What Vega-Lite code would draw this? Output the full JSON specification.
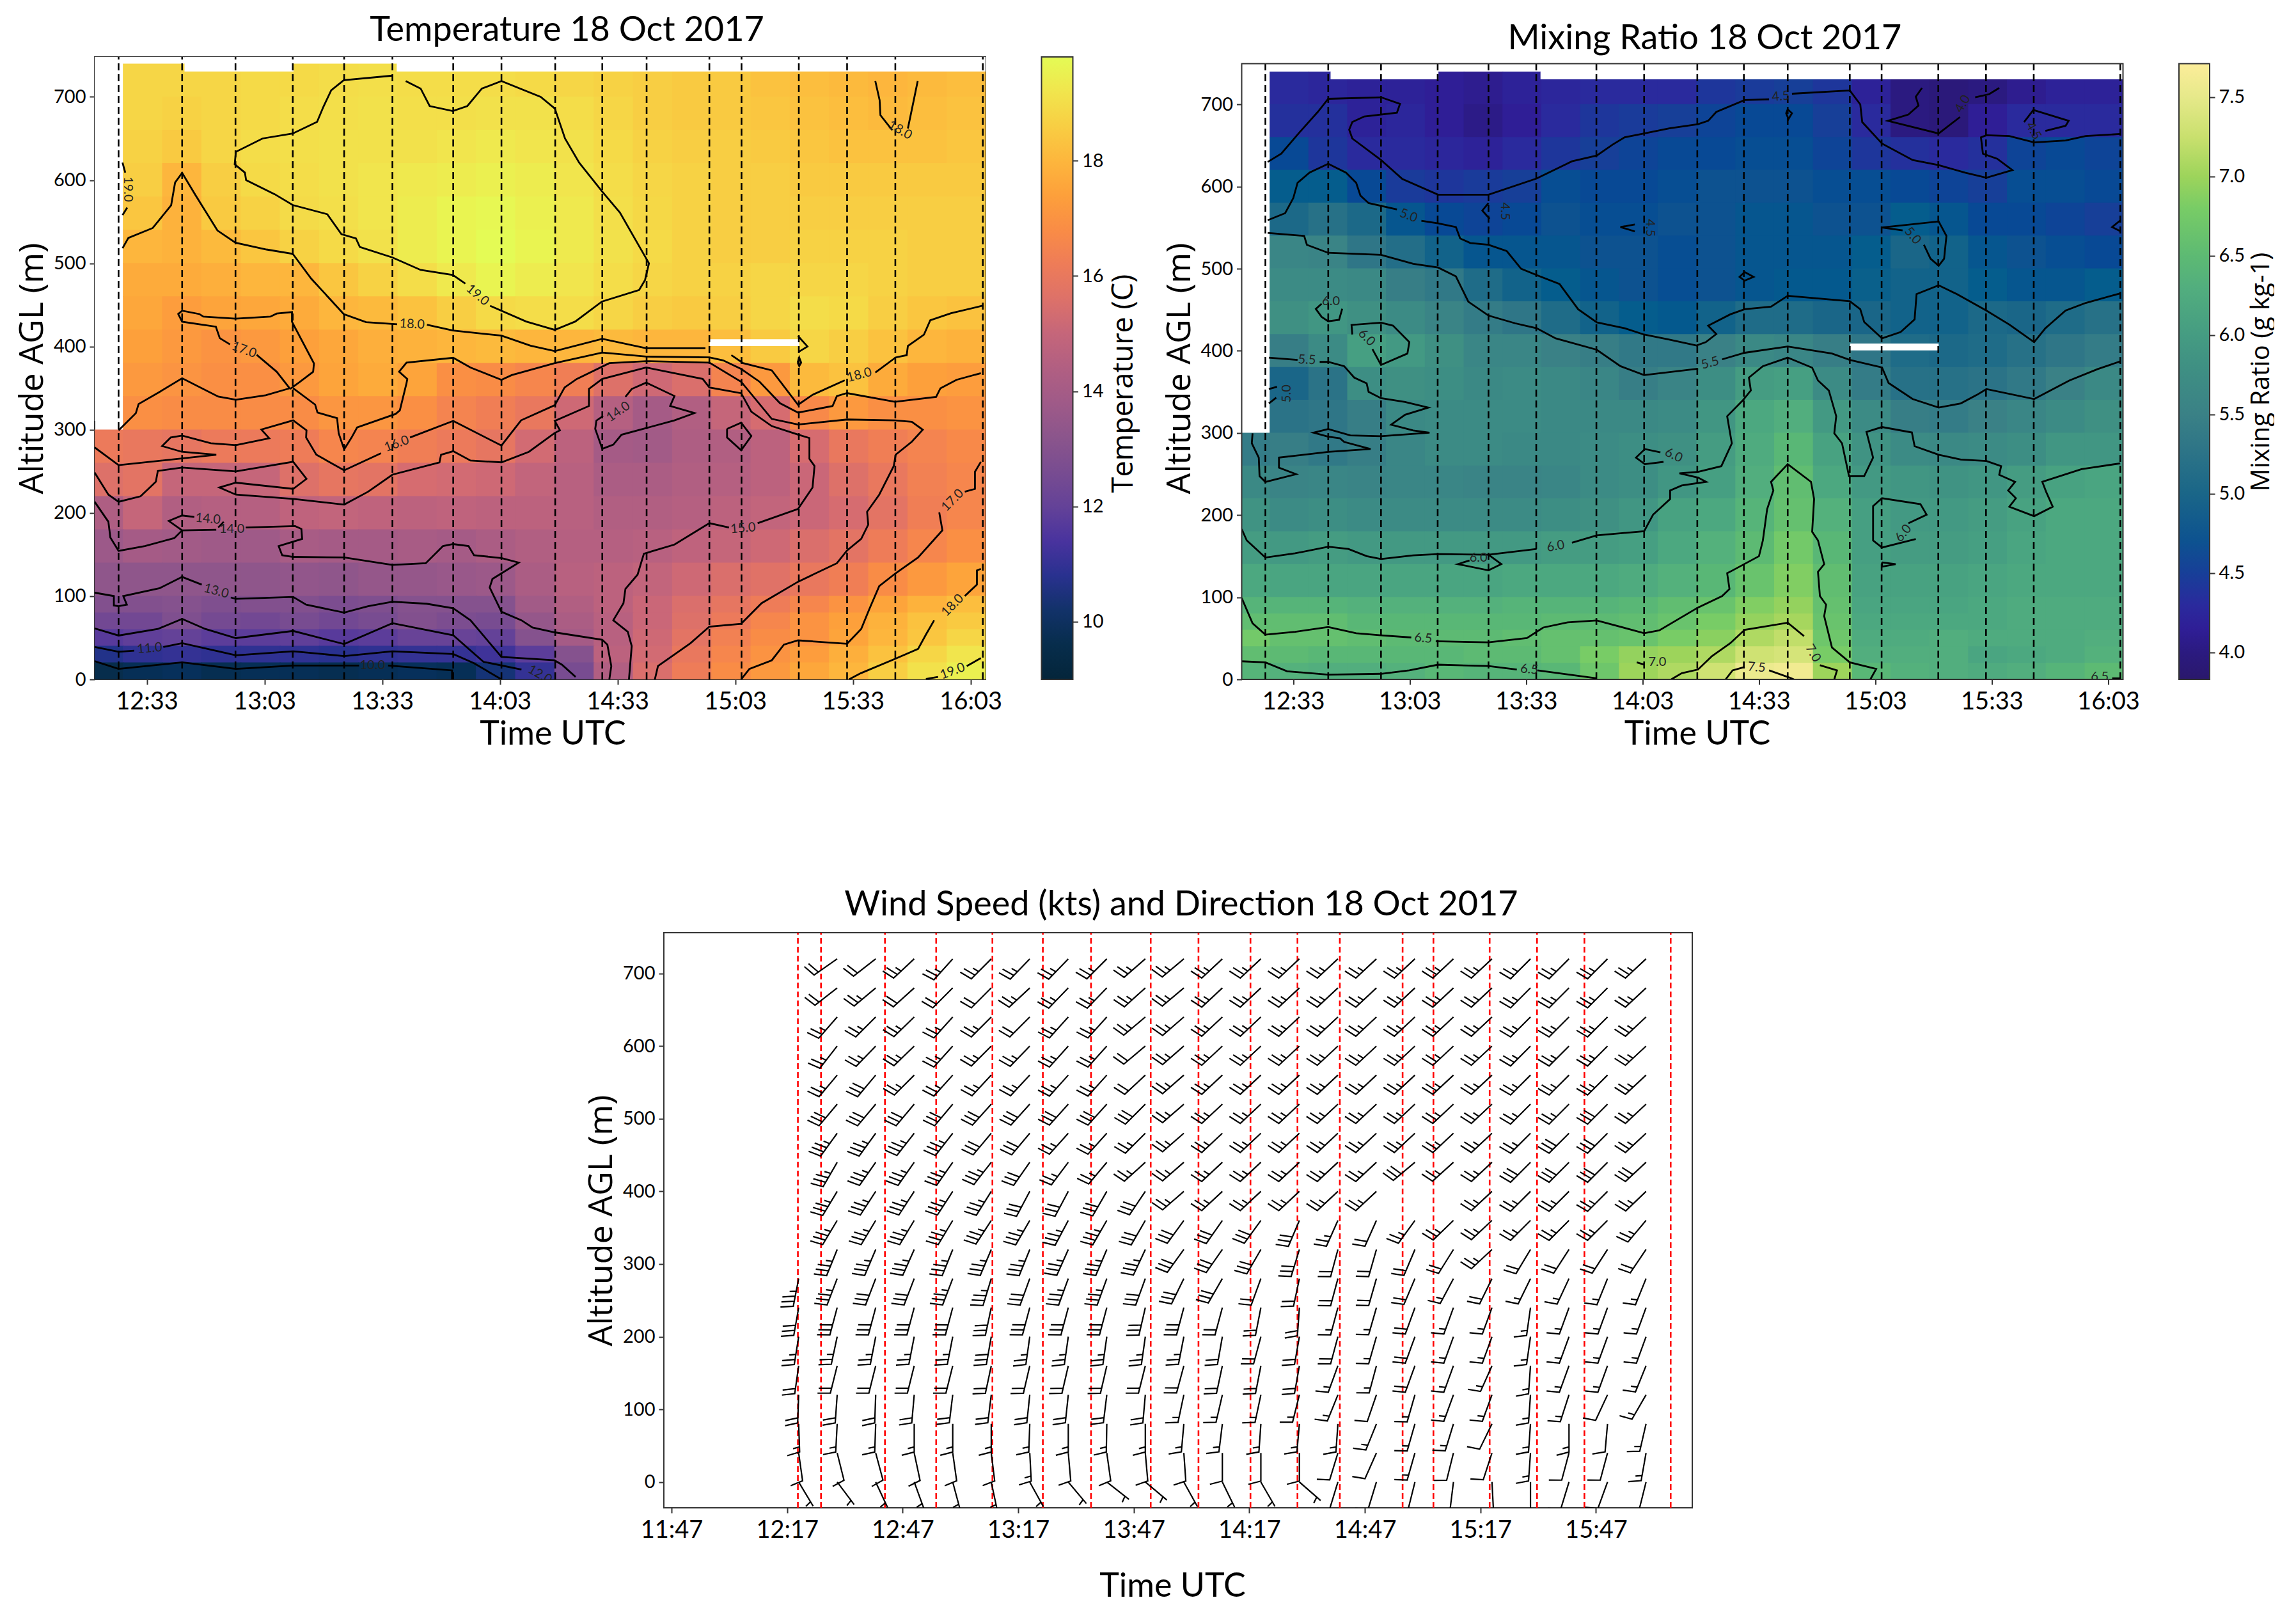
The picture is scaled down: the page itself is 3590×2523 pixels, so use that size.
{"$schema":"https://vega.github.io/schema/vega-lite/v6.json","description":"Temperature, mixing ratio and wind barbs, 18 Oct 2017","background":"white","padding":{"left":23,"top":20,"right":0,"bottom":0},"bounds":"full","align":"none","spacing":212,"resolve":{"scale":{"color":"independent"}},
"datasets":{
"casts":[{"t":745.8,"p":0,"q":749.6},{"t":762,"p":0,"q":749.6},{"t":775.6,"p":0,"q":749.6},{"t":790.2,"p":0,"q":749.6},{"t":803.3,"p":0,"q":749.6},{"t":815.6,"p":0,"q":749.6},{"t":831.1,"p":0,"q":749.6},{"t":843.4,"p":0,"q":749.6},{"t":857.1,"p":0,"q":749.6},{"t":869.1,"p":0,"q":749.6},{"t":880.4,"p":0,"q":749.6},{"t":896.4,"p":0,"q":749.6},{"t":904.6,"p":0,"q":749.6},{"t":919.2,"p":0,"q":749.6},{"t":931.5,"p":0,"q":749.6},{"t":943.8,"p":0,"q":749.6},{"t":966.1,"p":0,"q":749.6}],
"wcasts":[{"t":739.8,"p":-35.5,"q":756},{"t":745.8,"p":-35.5,"q":756},{"t":762.4,"p":-35.5,"q":756},{"t":775.7,"p":-35.5,"q":756},{"t":790.3,"p":-35.5,"q":756},{"t":803.4,"p":-35.5,"q":756},{"t":815.9,"p":-35.5,"q":756},{"t":831.4,"p":-35.5,"q":756},{"t":843.8,"p":-35.5,"q":756},{"t":857.3,"p":-35.5,"q":756},{"t":869.5,"p":-35.5,"q":756},{"t":880.5,"p":-35.5,"q":756},{"t":896.8,"p":-35.5,"q":756},{"t":904.8,"p":-35.5,"q":756},{"t":919.4,"p":-35.5,"q":756},{"t":931.7,"p":-35.5,"q":756},{"t":944,"p":-35.5,"q":756},{"t":966.4,"p":-35.5,"q":756}],
"masks":[{"a":739,"b":746.4,"p":310.6,"q":749.6},{"a":746.4,"b":762.6,"p":740,"q":749.6},{"a":762.6,"b":790.4,"p":730.5,"q":749.6},{"a":790.4,"b":816.7,"p":740,"q":749.6},{"a":816.7,"b":967,"p":730.5,"q":749.6},{"a":896.5,"b":919.3,"p":400.5,"q":408.8}],
"temp":[
{"t":752,"h":720,"v":18.8},{"t":762,"h":720,"v":18.8},{"t":772,"h":720,"v":18.8},{"t":782,"h":720,"v":18.9},{"t":792,"h":720,"v":18.9},{"t":802,"h":720,"v":19},{"t":812,"h":720,"v":19.05},{"t":822,"h":720,"v":19},{"t":832,"h":720,"v":19},{"t":842,"h":720,"v":19},{"t":852,"h":720,"v":18.9},{"t":862,"h":720,"v":18.8},{"t":872,"h":720,"v":18.7},{"t":882,"h":720,"v":18.6},{"t":892,"h":720,"v":18.5},{"t":902,"h":720,"v":18.5},{"t":912,"h":720,"v":18.3},{"t":922,"h":720,"v":18.2},{"t":932,"h":720,"v":18.1},{"t":942,"h":720,"v":18},{"t":952,"h":720,"v":18.1},{"t":962,"h":720,"v":18.2},
{"t":752,"h":680,"v":18.8},{"t":762,"h":680,"v":18.7},{"t":772,"h":680,"v":18.8},{"t":782,"h":680,"v":18.9},{"t":792,"h":680,"v":19},{"t":802,"h":680,"v":19.05},{"t":812,"h":680,"v":19.1},{"t":822,"h":680,"v":19.05},{"t":832,"h":680,"v":19.05},{"t":842,"h":680,"v":19.1},{"t":852,"h":680,"v":19.1},{"t":862,"h":680,"v":19},{"t":872,"h":680,"v":18.8},{"t":882,"h":680,"v":18.6},{"t":892,"h":680,"v":18.5},{"t":902,"h":680,"v":18.5},{"t":912,"h":680,"v":18.4},{"t":922,"h":680,"v":18.3},{"t":932,"h":680,"v":18.2},{"t":942,"h":680,"v":18.1},{"t":952,"h":680,"v":18.2},{"t":962,"h":680,"v":18.3},
{"t":752,"h":640,"v":18.7},{"t":762,"h":640,"v":18.5},{"t":772,"h":640,"v":18.8},{"t":782,"h":640,"v":19},{"t":792,"h":640,"v":19.05},{"t":802,"h":640,"v":19.1},{"t":812,"h":640,"v":19.1},{"t":822,"h":640,"v":19.1},{"t":832,"h":640,"v":19.2},{"t":842,"h":640,"v":19.3},{"t":852,"h":640,"v":19.2},{"t":862,"h":640,"v":19.1},{"t":872,"h":640,"v":18.9},{"t":882,"h":640,"v":18.7},{"t":892,"h":640,"v":18.6},{"t":902,"h":640,"v":18.6},{"t":912,"h":640,"v":18.5},{"t":922,"h":640,"v":18.4},{"t":932,"h":640,"v":18.3},{"t":942,"h":640,"v":18.3},{"t":952,"h":640,"v":18.3},{"t":962,"h":640,"v":18.4},
{"t":752,"h":600,"v":18.6},{"t":762,"h":600,"v":18},{"t":772,"h":600,"v":18.6},{"t":782,"h":600,"v":18.9},{"t":792,"h":600,"v":19},{"t":802,"h":600,"v":19.1},{"t":812,"h":600,"v":19.2},{"t":822,"h":600,"v":19.3},{"t":832,"h":600,"v":19.4},{"t":842,"h":600,"v":19.5},{"t":852,"h":600,"v":19.4},{"t":862,"h":600,"v":19.2},{"t":872,"h":600,"v":19},{"t":882,"h":600,"v":18.8},{"t":892,"h":600,"v":18.7},{"t":902,"h":600,"v":18.6},{"t":912,"h":600,"v":18.6},{"t":922,"h":600,"v":18.5},{"t":932,"h":600,"v":18.5},{"t":942,"h":600,"v":18.5},{"t":952,"h":600,"v":18.5},{"t":962,"h":600,"v":18.5},
{"t":752,"h":560,"v":18.4},{"t":762,"h":560,"v":17.9},{"t":772,"h":560,"v":18.5},{"t":782,"h":560,"v":18.7},{"t":792,"h":560,"v":18.95},{"t":802,"h":560,"v":19.05},{"t":812,"h":560,"v":19.2},{"t":822,"h":560,"v":19.4},{"t":832,"h":560,"v":19.6},{"t":842,"h":560,"v":19.7},{"t":852,"h":560,"v":19.5},{"t":862,"h":560,"v":19.3},{"t":872,"h":560,"v":19.05},{"t":882,"h":560,"v":18.85},{"t":892,"h":560,"v":18.7},{"t":902,"h":560,"v":18.6},{"t":912,"h":560,"v":18.6},{"t":922,"h":560,"v":18.6},{"t":932,"h":560,"v":18.6},{"t":942,"h":560,"v":18.6},{"t":952,"h":560,"v":18.6},{"t":962,"h":560,"v":18.6},
{"t":752,"h":520,"v":18},{"t":762,"h":520,"v":17.9},{"t":772,"h":520,"v":18.1},{"t":782,"h":520,"v":18.4},{"t":792,"h":520,"v":18.7},{"t":802,"h":520,"v":18.9},{"t":812,"h":520,"v":19.1},{"t":822,"h":520,"v":19.4},{"t":832,"h":520,"v":19.6},{"t":842,"h":520,"v":19.8},{"t":852,"h":520,"v":19.6},{"t":862,"h":520,"v":19.35},{"t":872,"h":520,"v":19.1},{"t":882,"h":520,"v":18.9},{"t":892,"h":520,"v":18.7},{"t":902,"h":520,"v":18.6},{"t":912,"h":520,"v":18.6},{"t":922,"h":520,"v":18.7},{"t":932,"h":520,"v":18.7},{"t":942,"h":520,"v":18.7},{"t":952,"h":520,"v":18.6},{"t":962,"h":520,"v":18.6},
{"t":752,"h":480,"v":17.7},{"t":762,"h":480,"v":17.7},{"t":772,"h":480,"v":17.8},{"t":782,"h":480,"v":18},{"t":792,"h":480,"v":18},{"t":802,"h":480,"v":18.4},{"t":812,"h":480,"v":18.7},{"t":822,"h":480,"v":19},{"t":832,"h":480,"v":19.3},{"t":842,"h":480,"v":19.6},{"t":852,"h":480,"v":19.4},{"t":862,"h":480,"v":19.2},{"t":872,"h":480,"v":19},{"t":882,"h":480,"v":18.8},{"t":892,"h":480,"v":18.7},{"t":902,"h":480,"v":18.7},{"t":912,"h":480,"v":18.8},{"t":922,"h":480,"v":18.8},{"t":932,"h":480,"v":18.8},{"t":942,"h":480,"v":18.7},{"t":952,"h":480,"v":18.6},{"t":962,"h":480,"v":18.6},
{"t":752,"h":440,"v":17.6},{"t":762,"h":440,"v":17.3},{"t":772,"h":440,"v":17.5},{"t":782,"h":440,"v":17.6},{"t":792,"h":440,"v":17.7},{"t":802,"h":440,"v":18},{"t":812,"h":440,"v":18.1},{"t":822,"h":440,"v":18.3},{"t":832,"h":440,"v":18.6},{"t":842,"h":440,"v":18.9},{"t":852,"h":440,"v":19},{"t":862,"h":440,"v":19},{"t":872,"h":440,"v":18.8},{"t":882,"h":440,"v":18.6},{"t":892,"h":440,"v":18.5},{"t":902,"h":440,"v":18.6},{"t":912,"h":440,"v":18.8},{"t":922,"h":440,"v":19},{"t":932,"h":440,"v":18.9},{"t":942,"h":440,"v":18.6},{"t":952,"h":440,"v":18.4},{"t":962,"h":440,"v":18.3},
{"t":752,"h":400,"v":17.4},{"t":762,"h":400,"v":17.2},{"t":772,"h":400,"v":17},{"t":782,"h":400,"v":17.2},{"t":792,"h":400,"v":17.4},{"t":802,"h":400,"v":17.6},{"t":812,"h":400,"v":17.8},{"t":822,"h":400,"v":17.9},{"t":832,"h":400,"v":18},{"t":842,"h":400,"v":18.1},{"t":852,"h":400,"v":18},{"t":862,"h":400,"v":18},{"t":872,"h":400,"v":18.1},{"t":882,"h":400,"v":18},{"t":892,"h":400,"v":18},{"t":902,"h":400,"v":18.2},{"t":912,"h":400,"v":18.5},{"t":922,"h":400,"v":18.8},{"t":932,"h":400,"v":18.6},{"t":942,"h":400,"v":18.3},{"t":952,"h":400,"v":18},{"t":962,"h":400,"v":17.9},
{"t":752,"h":360,"v":17.2},{"t":762,"h":360,"v":17.05},{"t":772,"h":360,"v":16.9},{"t":782,"h":360,"v":16.9},{"t":792,"h":360,"v":17.2},{"t":802,"h":360,"v":17.5},{"t":812,"h":360,"v":17.7},{"t":822,"h":360,"v":17.5},{"t":832,"h":360,"v":16.9},{"t":842,"h":360,"v":16.8},{"t":852,"h":360,"v":16.6},{"t":862,"h":360,"v":16.3},{"t":872,"h":360,"v":15.6},{"t":882,"h":360,"v":15.2},{"t":892,"h":360,"v":15.5},{"t":902,"h":360,"v":16.5},{"t":912,"h":360,"v":17.2},{"t":922,"h":360,"v":18.1},{"t":932,"h":360,"v":18.3},{"t":942,"h":360,"v":17.7},{"t":952,"h":360,"v":17.4},{"t":962,"h":360,"v":17.3},
{"t":752,"h":320,"v":16.9},{"t":762,"h":320,"v":16.8},{"t":772,"h":320,"v":16.8},{"t":782,"h":320,"v":16.8},{"t":792,"h":320,"v":16.8},{"t":802,"h":320,"v":17.1},{"t":812,"h":320,"v":17.1},{"t":822,"h":320,"v":16.9},{"t":832,"h":320,"v":16.5},{"t":842,"h":320,"v":16.3},{"t":852,"h":320,"v":16},{"t":862,"h":320,"v":15.2},{"t":872,"h":320,"v":14.5},{"t":882,"h":320,"v":14},{"t":892,"h":320,"v":14.4},{"t":902,"h":320,"v":15},{"t":912,"h":320,"v":15.4},{"t":922,"h":320,"v":16.7},{"t":932,"h":320,"v":17.2},{"t":942,"h":320,"v":16.9},{"t":952,"h":320,"v":16.9},{"t":962,"h":320,"v":17},
{"t":742,"h":280,"v":16.1},{"t":752,"h":280,"v":16},{"t":762,"h":280,"v":15.9},{"t":772,"h":280,"v":16.1},{"t":782,"h":280,"v":16.1},{"t":792,"h":280,"v":16.2},{"t":802,"h":280,"v":16.6},{"t":812,"h":280,"v":16.5},{"t":822,"h":280,"v":16.3},{"t":832,"h":280,"v":16.1},{"t":842,"h":280,"v":15.9},{"t":852,"h":280,"v":15.3},{"t":862,"h":280,"v":14.7},{"t":872,"h":280,"v":14},{"t":882,"h":280,"v":13.9},{"t":892,"h":280,"v":14.3},{"t":902,"h":280,"v":14.4},{"t":912,"h":280,"v":14.7},{"t":922,"h":280,"v":15.4},{"t":932,"h":280,"v":16},{"t":942,"h":280,"v":16.3},{"t":952,"h":280,"v":16.5},{"t":962,"h":280,"v":16.7},
{"t":742,"h":240,"v":15.6},{"t":752,"h":240,"v":15.8},{"t":762,"h":240,"v":15},{"t":772,"h":240,"v":15},{"t":782,"h":240,"v":15},{"t":792,"h":240,"v":15.6},{"t":802,"h":240,"v":15.9},{"t":812,"h":240,"v":15.8},{"t":822,"h":240,"v":15.4},{"t":832,"h":240,"v":15.3},{"t":842,"h":240,"v":15.2},{"t":852,"h":240,"v":14.9},{"t":862,"h":240,"v":14.6},{"t":872,"h":240,"v":14.2},{"t":882,"h":240,"v":14.2},{"t":892,"h":240,"v":14.4},{"t":902,"h":240,"v":14.5},{"t":912,"h":240,"v":14.7},{"t":922,"h":240,"v":15.1},{"t":932,"h":240,"v":15.6},{"t":942,"h":240,"v":16},{"t":952,"h":240,"v":16.4},{"t":962,"h":240,"v":16.6},
{"t":742,"h":200,"v":14.3},{"t":752,"h":200,"v":15},{"t":762,"h":200,"v":14.4},{"t":772,"h":200,"v":14.5},{"t":782,"h":200,"v":14.5},{"t":792,"h":200,"v":14.8},{"t":802,"h":200,"v":14.9},{"t":812,"h":200,"v":14.8},{"t":822,"h":200,"v":14.7},{"t":832,"h":200,"v":14.8},{"t":842,"h":200,"v":14.7},{"t":852,"h":200,"v":14.7},{"t":862,"h":200,"v":14.6},{"t":872,"h":200,"v":14.4},{"t":882,"h":200,"v":14.4},{"t":892,"h":200,"v":14.5},{"t":902,"h":200,"v":14.7},{"t":912,"h":200,"v":14.9},{"t":922,"h":200,"v":15.1},{"t":932,"h":200,"v":15.4},{"t":942,"h":200,"v":15.8},{"t":952,"h":200,"v":16.3},{"t":962,"h":200,"v":16.6},
{"t":742,"h":160,"v":13.7},{"t":752,"h":160,"v":14},{"t":762,"h":160,"v":13.9},{"t":772,"h":160,"v":13.8},{"t":782,"h":160,"v":13.8},{"t":792,"h":160,"v":14.1},{"t":802,"h":160,"v":14},{"t":812,"h":160,"v":14},{"t":822,"h":160,"v":14.1},{"t":832,"h":160,"v":14},{"t":842,"h":160,"v":14.2},{"t":852,"h":160,"v":14.4},{"t":862,"h":160,"v":14.5},{"t":872,"h":160,"v":14.5},{"t":882,"h":160,"v":14.6},{"t":892,"h":160,"v":14.8},{"t":902,"h":160,"v":15},{"t":912,"h":160,"v":15.2},{"t":922,"h":160,"v":15.5},{"t":932,"h":160,"v":15.8},{"t":942,"h":160,"v":16.2},{"t":952,"h":160,"v":16.6},{"t":962,"h":160,"v":16.9},
{"t":742,"h":120,"v":13.3},{"t":752,"h":120,"v":13.3},{"t":762,"h":120,"v":13.3},{"t":772,"h":120,"v":13.3},{"t":782,"h":120,"v":13.3},{"t":792,"h":120,"v":13.4},{"t":802,"h":120,"v":13.3},{"t":812,"h":120,"v":13.5},{"t":822,"h":120,"v":13.5},{"t":832,"h":120,"v":13.6},{"t":842,"h":120,"v":13.7},{"t":852,"h":120,"v":14.2},{"t":862,"h":120,"v":14.6},{"t":872,"h":120,"v":14.7},{"t":882,"h":120,"v":14.9},{"t":892,"h":120,"v":15.2},{"t":902,"h":120,"v":15.5},{"t":912,"h":120,"v":15.7},{"t":922,"h":120,"v":16},{"t":932,"h":120,"v":16.3},{"t":942,"h":120,"v":16.8},{"t":952,"h":120,"v":17.2},{"t":962,"h":120,"v":17.5},
{"t":742,"h":90,"v":12.9},{"t":752,"h":90,"v":12.9},{"t":762,"h":90,"v":13},{"t":772,"h":90,"v":12.8},{"t":782,"h":90,"v":12.9},{"t":792,"h":90,"v":12.9},{"t":802,"h":90,"v":12.7},{"t":812,"h":90,"v":12.8},{"t":822,"h":90,"v":13},{"t":832,"h":90,"v":13},{"t":842,"h":90,"v":13},{"t":852,"h":90,"v":13.9},{"t":862,"h":90,"v":14.4},{"t":872,"h":90,"v":14.7},{"t":882,"h":90,"v":15.1},{"t":892,"h":90,"v":15.5},{"t":902,"h":90,"v":15.9},{"t":912,"h":90,"v":16.2},{"t":922,"h":90,"v":16.6},{"t":932,"h":90,"v":17},{"t":942,"h":90,"v":17.5},{"t":952,"h":90,"v":17.9},{"t":962,"h":90,"v":18.2},
{"t":742,"h":70,"v":12.4},{"t":752,"h":70,"v":12.4},{"t":762,"h":70,"v":12.8},{"t":772,"h":70,"v":12.5},{"t":782,"h":70,"v":12.4},{"t":792,"h":70,"v":12.6},{"t":802,"h":70,"v":12.4},{"t":812,"h":70,"v":12.6},{"t":822,"h":70,"v":12.9},{"t":832,"h":70,"v":12.7},{"t":842,"h":70,"v":12.6},{"t":852,"h":70,"v":13.5},{"t":862,"h":70,"v":14.2},{"t":872,"h":70,"v":14.6},{"t":882,"h":70,"v":15.1},{"t":892,"h":70,"v":15.6},{"t":902,"h":70,"v":16.1},{"t":912,"h":70,"v":16.6},{"t":922,"h":70,"v":17},{"t":932,"h":70,"v":17.4},{"t":942,"h":70,"v":17.9},{"t":952,"h":70,"v":18.3},{"t":962,"h":70,"v":18.5},
{"t":742,"h":50,"v":11.7},{"t":752,"h":50,"v":11.9},{"t":762,"h":50,"v":12},{"t":772,"h":50,"v":11.8},{"t":782,"h":50,"v":11.8},{"t":792,"h":50,"v":11.9},{"t":802,"h":50,"v":11.7},{"t":812,"h":50,"v":11.8},{"t":822,"h":50,"v":12.1},{"t":832,"h":50,"v":12.1},{"t":842,"h":50,"v":12},{"t":852,"h":50,"v":13},{"t":862,"h":50,"v":14},{"t":872,"h":50,"v":14.6},{"t":882,"h":50,"v":15.2},{"t":892,"h":50,"v":15.8},{"t":902,"h":50,"v":16.4},{"t":912,"h":50,"v":16.8},{"t":922,"h":50,"v":17},{"t":932,"h":50,"v":17.5},{"t":942,"h":50,"v":18},{"t":952,"h":50,"v":18.4},{"t":962,"h":50,"v":18.8},
{"t":742,"h":30,"v":10.7},{"t":752,"h":30,"v":10.9},{"t":762,"h":30,"v":11},{"t":772,"h":30,"v":10.9},{"t":782,"h":30,"v":10.9},{"t":792,"h":30,"v":10.9},{"t":802,"h":30,"v":10.8},{"t":812,"h":30,"v":10.9},{"t":822,"h":30,"v":11},{"t":832,"h":30,"v":11},{"t":842,"h":30,"v":11.2},{"t":852,"h":30,"v":11.8},{"t":862,"h":30,"v":13},{"t":872,"h":30,"v":14.7},{"t":882,"h":30,"v":15.3},{"t":892,"h":30,"v":16},{"t":902,"h":30,"v":16.6},{"t":912,"h":30,"v":17},{"t":922,"h":30,"v":17.3},{"t":932,"h":30,"v":17.8},{"t":942,"h":30,"v":18.3},{"t":952,"h":30,"v":18.8},{"t":962,"h":30,"v":19.2},
{"t":742,"h":10,"v":9.6},{"t":752,"h":10,"v":9.8},{"t":762,"h":10,"v":9.9},{"t":772,"h":10,"v":9.7},{"t":782,"h":10,"v":9.8},{"t":792,"h":10,"v":9.8},{"t":802,"h":10,"v":9.7},{"t":812,"h":10,"v":9.8},{"t":822,"h":10,"v":9.9},{"t":832,"h":10,"v":9.8},{"t":842,"h":10,"v":10.4},{"t":852,"h":10,"v":11},{"t":862,"h":10,"v":12.6},{"t":872,"h":10,"v":14.4},{"t":882,"h":10,"v":15.5},{"t":892,"h":10,"v":16.2},{"t":902,"h":10,"v":16.8},{"t":912,"h":10,"v":17.2},{"t":922,"h":10,"v":17.6},{"t":932,"h":10,"v":18},{"t":942,"h":10,"v":18.6},{"t":952,"h":10,"v":19.1},{"t":962,"h":10,"v":19.5}],
"mix":[
{"t":752,"h":720,"v":4.3},{"t":762,"h":720,"v":4.25},{"t":772,"h":720,"v":4.2},{"t":782,"h":720,"v":4.2},{"t":792,"h":720,"v":4.15},{"t":802,"h":720,"v":4.1},{"t":812,"h":720,"v":4.2},{"t":822,"h":720,"v":4.25},{"t":832,"h":720,"v":4.3},{"t":842,"h":720,"v":4.3},{"t":852,"h":720,"v":4.3},{"t":862,"h":720,"v":4.4},{"t":872,"h":720,"v":4.45},{"t":882,"h":720,"v":4.5},{"t":892,"h":720,"v":4.4},{"t":902,"h":720,"v":4.2},{"t":912,"h":720,"v":4},{"t":922,"h":720,"v":3.95},{"t":932,"h":720,"v":4},{"t":942,"h":720,"v":4.1},{"t":952,"h":720,"v":4.2},{"t":962,"h":720,"v":4.2},
{"t":752,"h":680,"v":4.35},{"t":762,"h":680,"v":4.35},{"t":772,"h":680,"v":4.2},{"t":782,"h":680,"v":4.25},{"t":792,"h":680,"v":4.15},{"t":802,"h":680,"v":4.05},{"t":812,"h":680,"v":4.15},{"t":822,"h":680,"v":4.3},{"t":832,"h":680,"v":4.4},{"t":842,"h":680,"v":4.45},{"t":852,"h":680,"v":4.5},{"t":862,"h":680,"v":4.55},{"t":872,"h":680,"v":4.6},{"t":882,"h":680,"v":4.6},{"t":892,"h":680,"v":4.5},{"t":902,"h":680,"v":4.3},{"t":912,"h":680,"v":4},{"t":922,"h":680,"v":3.95},{"t":932,"h":680,"v":4.15},{"t":942,"h":680,"v":4.3},{"t":952,"h":680,"v":4.3},{"t":962,"h":680,"v":4.3},
{"t":752,"h":640,"v":4.6},{"t":762,"h":640,"v":4.4},{"t":772,"h":640,"v":4.3},{"t":782,"h":640,"v":4.3},{"t":792,"h":640,"v":4.25},{"t":802,"h":640,"v":4.2},{"t":812,"h":640,"v":4.3},{"t":822,"h":640,"v":4.4},{"t":832,"h":640,"v":4.5},{"t":842,"h":640,"v":4.55},{"t":852,"h":640,"v":4.6},{"t":862,"h":640,"v":4.6},{"t":872,"h":640,"v":4.65},{"t":882,"h":640,"v":4.65},{"t":892,"h":640,"v":4.55},{"t":902,"h":640,"v":4.4},{"t":912,"h":640,"v":4.35},{"t":922,"h":640,"v":4.3},{"t":932,"h":640,"v":4.35},{"t":942,"h":640,"v":4.55},{"t":952,"h":640,"v":4.6},{"t":962,"h":640,"v":4.55},
{"t":752,"h":600,"v":4.85},{"t":762,"h":600,"v":4.85},{"t":772,"h":600,"v":4.6},{"t":782,"h":600,"v":4.45},{"t":792,"h":600,"v":4.4},{"t":802,"h":600,"v":4.45},{"t":812,"h":600,"v":4.5},{"t":822,"h":600,"v":4.65},{"t":832,"h":600,"v":4.6},{"t":842,"h":600,"v":4.6},{"t":852,"h":600,"v":4.65},{"t":862,"h":600,"v":4.7},{"t":872,"h":600,"v":4.7},{"t":882,"h":600,"v":4.7},{"t":892,"h":600,"v":4.65},{"t":902,"h":600,"v":4.65},{"t":912,"h":600,"v":4.6},{"t":922,"h":600,"v":4.55},{"t":932,"h":600,"v":4.5},{"t":942,"h":600,"v":4.65},{"t":952,"h":600,"v":4.65},{"t":962,"h":600,"v":4.6},
{"t":752,"h":560,"v":5.05},{"t":762,"h":560,"v":5.2},{"t":772,"h":560,"v":5.05},{"t":782,"h":560,"v":4.75},{"t":792,"h":560,"v":4.6},{"t":802,"h":560,"v":4.55},{"t":812,"h":560,"v":4.6},{"t":822,"h":560,"v":4.7},{"t":832,"h":560,"v":4.65},{"t":842,"h":560,"v":4.65},{"t":852,"h":560,"v":4.7},{"t":862,"h":560,"v":4.7},{"t":872,"h":560,"v":4.75},{"t":882,"h":560,"v":4.75},{"t":892,"h":560,"v":4.7},{"t":902,"h":560,"v":4.7},{"t":912,"h":560,"v":4.85},{"t":922,"h":560,"v":4.75},{"t":932,"h":560,"v":4.6},{"t":942,"h":560,"v":4.6},{"t":952,"h":560,"v":4.55},{"t":962,"h":560,"v":4.5},
{"t":752,"h":520,"v":5.6},{"t":762,"h":520,"v":5.55},{"t":772,"h":520,"v":5.3},{"t":782,"h":520,"v":5.15},{"t":792,"h":520,"v":4.95},{"t":802,"h":520,"v":4.75},{"t":812,"h":520,"v":4.75},{"t":822,"h":520,"v":4.75},{"t":832,"h":520,"v":4.7},{"t":842,"h":520,"v":4.7},{"t":852,"h":520,"v":4.65},{"t":862,"h":520,"v":4.7},{"t":872,"h":520,"v":4.75},{"t":882,"h":520,"v":4.75},{"t":892,"h":520,"v":4.75},{"t":902,"h":520,"v":4.85},{"t":912,"h":520,"v":5},{"t":922,"h":520,"v":4.95},{"t":932,"h":520,"v":4.75},{"t":942,"h":520,"v":4.7},{"t":952,"h":520,"v":4.65},{"t":962,"h":520,"v":4.6},
{"t":752,"h":480,"v":5.7},{"t":762,"h":480,"v":5.7},{"t":772,"h":480,"v":5.65},{"t":782,"h":480,"v":5.45},{"t":792,"h":480,"v":5.35},{"t":802,"h":480,"v":5.1},{"t":812,"h":480,"v":4.95},{"t":822,"h":480,"v":4.85},{"t":832,"h":480,"v":4.75},{"t":842,"h":480,"v":4.7},{"t":852,"h":480,"v":4.65},{"t":862,"h":480,"v":4.7},{"t":872,"h":480,"v":4.75},{"t":882,"h":480,"v":4.8},{"t":892,"h":480,"v":4.8},{"t":902,"h":480,"v":4.9},{"t":912,"h":480,"v":4.95},{"t":922,"h":480,"v":4.95},{"t":932,"h":480,"v":4.85},{"t":942,"h":480,"v":4.75},{"t":952,"h":480,"v":4.75},{"t":962,"h":480,"v":4.85},
{"t":752,"h":440,"v":5.8},{"t":762,"h":440,"v":5.9},{"t":772,"h":440,"v":5.8},{"t":782,"h":440,"v":5.7},{"t":792,"h":440,"v":5.55},{"t":802,"h":440,"v":5.4},{"t":812,"h":440,"v":5.3},{"t":822,"h":440,"v":5.1},{"t":832,"h":440,"v":4.95},{"t":842,"h":440,"v":4.85},{"t":852,"h":440,"v":4.8},{"t":862,"h":440,"v":4.95},{"t":872,"h":440,"v":5.1},{"t":882,"h":440,"v":5.1},{"t":892,"h":440,"v":5},{"t":902,"h":440,"v":5},{"t":912,"h":440,"v":4.95},{"t":922,"h":440,"v":4.95},{"t":932,"h":440,"v":5.05},{"t":942,"h":440,"v":5},{"t":952,"h":440,"v":5.1},{"t":962,"h":440,"v":5.2},
{"t":752,"h":400,"v":5.45},{"t":762,"h":400,"v":5.7},{"t":772,"h":400,"v":6.05},{"t":782,"h":400,"v":5.95},{"t":792,"h":400,"v":5.8},{"t":802,"h":400,"v":5.6},{"t":812,"h":400,"v":5.6},{"t":822,"h":400,"v":5.5},{"t":832,"h":400,"v":5.45},{"t":842,"h":400,"v":5.35},{"t":852,"h":400,"v":5.35},{"t":862,"h":400,"v":5.5},{"t":872,"h":400,"v":5.65},{"t":882,"h":400,"v":5.6},{"t":892,"h":400,"v":5.45},{"t":902,"h":400,"v":5.3},{"t":912,"h":400,"v":5.1},{"t":922,"h":400,"v":5.05},{"t":932,"h":400,"v":5.1},{"t":942,"h":400,"v":5.2},{"t":952,"h":400,"v":5.3},{"t":962,"h":400,"v":5.4},
{"t":752,"h":360,"v":5},{"t":762,"h":360,"v":5.25},{"t":772,"h":360,"v":5.75},{"t":782,"h":360,"v":5.8},{"t":792,"h":360,"v":5.75},{"t":802,"h":360,"v":5.65},{"t":812,"h":360,"v":5.7},{"t":822,"h":360,"v":5.65},{"t":832,"h":360,"v":5.6},{"t":842,"h":360,"v":5.45},{"t":852,"h":360,"v":5.55},{"t":862,"h":360,"v":5.75},{"t":872,"h":360,"v":6},{"t":882,"h":360,"v":6.05},{"t":892,"h":360,"v":5.7},{"t":902,"h":360,"v":5.4},{"t":912,"h":360,"v":5.2},{"t":922,"h":360,"v":5.2},{"t":932,"h":360,"v":5.25},{"t":942,"h":360,"v":5.35},{"t":952,"h":360,"v":5.5},{"t":962,"h":360,"v":5.65},
{"t":752,"h":320,"v":5.25},{"t":762,"h":320,"v":5.3},{"t":772,"h":320,"v":5.45},{"t":782,"h":320,"v":5.65},{"t":792,"h":320,"v":5.7},{"t":802,"h":320,"v":5.7},{"t":812,"h":320,"v":5.7},{"t":822,"h":320,"v":5.65},{"t":832,"h":320,"v":5.65},{"t":842,"h":320,"v":5.65},{"t":852,"h":320,"v":5.7},{"t":862,"h":320,"v":5.9},{"t":872,"h":320,"v":6.2},{"t":882,"h":320,"v":6.3},{"t":892,"h":320,"v":5.95},{"t":902,"h":320,"v":5.7},{"t":912,"h":320,"v":5.45},{"t":922,"h":320,"v":5.4},{"t":932,"h":320,"v":5.5},{"t":942,"h":320,"v":5.6},{"t":952,"h":320,"v":5.7},{"t":962,"h":320,"v":5.8},
{"t":742,"h":280,"v":5.4},{"t":752,"h":280,"v":5.45},{"t":762,"h":280,"v":5.35},{"t":772,"h":280,"v":5.45},{"t":782,"h":280,"v":5.6},{"t":792,"h":280,"v":5.7},{"t":802,"h":280,"v":5.7},{"t":812,"h":280,"v":5.65},{"t":822,"h":280,"v":5.65},{"t":832,"h":280,"v":5.7},{"t":842,"h":280,"v":5.75},{"t":852,"h":280,"v":5.8},{"t":862,"h":280,"v":6},{"t":872,"h":280,"v":6.25},{"t":882,"h":280,"v":6.45},{"t":892,"h":280,"v":6.1},{"t":902,"h":280,"v":5.85},{"t":912,"h":280,"v":5.7},{"t":922,"h":280,"v":5.65},{"t":932,"h":280,"v":5.7},{"t":942,"h":280,"v":5.75},{"t":952,"h":280,"v":5.9},{"t":962,"h":280,"v":5.9},
{"t":742,"h":240,"v":5.65},{"t":752,"h":240,"v":5.55},{"t":762,"h":240,"v":5.6},{"t":772,"h":240,"v":5.55},{"t":782,"h":240,"v":5.6},{"t":792,"h":240,"v":5.6},{"t":802,"h":240,"v":5.55},{"t":812,"h":240,"v":5.55},{"t":822,"h":240,"v":5.6},{"t":832,"h":240,"v":5.7},{"t":842,"h":240,"v":5.75},{"t":852,"h":240,"v":5.9},{"t":862,"h":240,"v":6.05},{"t":872,"h":240,"v":6.3},{"t":882,"h":240,"v":6.55},{"t":892,"h":240,"v":6.2},{"t":902,"h":240,"v":5.95},{"t":912,"h":240,"v":5.9},{"t":922,"h":240,"v":5.85},{"t":932,"h":240,"v":5.9},{"t":942,"h":240,"v":6},{"t":952,"h":240,"v":6.1},{"t":962,"h":240,"v":6.15},
{"t":742,"h":200,"v":5.85},{"t":752,"h":200,"v":5.7},{"t":762,"h":200,"v":5.75},{"t":772,"h":200,"v":5.7},{"t":782,"h":200,"v":5.7},{"t":792,"h":200,"v":5.7},{"t":802,"h":200,"v":5.7},{"t":812,"h":200,"v":5.7},{"t":822,"h":200,"v":5.75},{"t":832,"h":200,"v":5.8},{"t":842,"h":200,"v":5.9},{"t":852,"h":200,"v":6.1},{"t":862,"h":200,"v":6.2},{"t":872,"h":200,"v":6.4},{"t":882,"h":200,"v":6.6},{"t":892,"h":200,"v":6.35},{"t":902,"h":200,"v":6.05},{"t":912,"h":200,"v":5.95},{"t":922,"h":200,"v":5.95},{"t":932,"h":200,"v":6},{"t":942,"h":200,"v":6.1},{"t":952,"h":200,"v":6.2},{"t":962,"h":200,"v":6.2},
{"t":742,"h":160,"v":6},{"t":752,"h":160,"v":5.95},{"t":762,"h":160,"v":6},{"t":772,"h":160,"v":5.95},{"t":782,"h":160,"v":5.95},{"t":792,"h":160,"v":5.95},{"t":802,"h":160,"v":5.95},{"t":812,"h":160,"v":5.95},{"t":822,"h":160,"v":6},{"t":832,"h":160,"v":6},{"t":842,"h":160,"v":6.05},{"t":852,"h":160,"v":6.2},{"t":862,"h":160,"v":6.35},{"t":872,"h":160,"v":6.5},{"t":882,"h":160,"v":6.75},{"t":892,"h":160,"v":6.45},{"t":902,"h":160,"v":6.05},{"t":912,"h":160,"v":6},{"t":922,"h":160,"v":6},{"t":932,"h":160,"v":6.05},{"t":942,"h":160,"v":6.15},{"t":952,"h":160,"v":6.2},{"t":962,"h":160,"v":6.2},
{"t":742,"h":120,"v":6.2},{"t":752,"h":120,"v":6.15},{"t":762,"h":120,"v":6.15},{"t":772,"h":120,"v":6.15},{"t":782,"h":120,"v":6.15},{"t":792,"h":120,"v":6.15},{"t":802,"h":120,"v":6.15},{"t":812,"h":120,"v":6.2},{"t":822,"h":120,"v":6.2},{"t":832,"h":120,"v":6.2},{"t":842,"h":120,"v":6.25},{"t":852,"h":120,"v":6.35},{"t":862,"h":120,"v":6.45},{"t":872,"h":120,"v":6.65},{"t":882,"h":120,"v":6.85},{"t":892,"h":120,"v":6.55},{"t":902,"h":120,"v":6.1},{"t":912,"h":120,"v":6.1},{"t":922,"h":120,"v":6.1},{"t":932,"h":120,"v":6.15},{"t":942,"h":120,"v":6.2},{"t":952,"h":120,"v":6.2},{"t":962,"h":120,"v":6.2},
{"t":742,"h":90,"v":6.4},{"t":752,"h":90,"v":6.4},{"t":762,"h":90,"v":6.4},{"t":772,"h":90,"v":6.35},{"t":782,"h":90,"v":6.35},{"t":792,"h":90,"v":6.35},{"t":802,"h":90,"v":6.35},{"t":812,"h":90,"v":6.4},{"t":822,"h":90,"v":6.4},{"t":832,"h":90,"v":6.4},{"t":842,"h":90,"v":6.45},{"t":852,"h":90,"v":6.55},{"t":862,"h":90,"v":6.65},{"t":872,"h":90,"v":6.85},{"t":882,"h":90,"v":6.95},{"t":892,"h":90,"v":6.6},{"t":902,"h":90,"v":6.15},{"t":912,"h":90,"v":6.15},{"t":922,"h":90,"v":6.15},{"t":932,"h":90,"v":6.2},{"t":942,"h":90,"v":6.25},{"t":952,"h":90,"v":6.25},{"t":962,"h":90,"v":6.25},
{"t":742,"h":70,"v":6.55},{"t":752,"h":70,"v":6.55},{"t":762,"h":70,"v":6.55},{"t":772,"h":70,"v":6.45},{"t":782,"h":70,"v":6.45},{"t":792,"h":70,"v":6.45},{"t":802,"h":70,"v":6.45},{"t":812,"h":70,"v":6.45},{"t":822,"h":70,"v":6.5},{"t":832,"h":70,"v":6.5},{"t":842,"h":70,"v":6.55},{"t":852,"h":70,"v":6.65},{"t":862,"h":70,"v":6.8},{"t":872,"h":70,"v":6.95},{"t":882,"h":70,"v":7.05},{"t":892,"h":70,"v":6.65},{"t":902,"h":70,"v":6.2},{"t":912,"h":70,"v":6.2},{"t":922,"h":70,"v":6.2},{"t":932,"h":70,"v":6.2},{"t":942,"h":70,"v":6.25},{"t":952,"h":70,"v":6.25},{"t":962,"h":70,"v":6.25},
{"t":742,"h":50,"v":6.75},{"t":752,"h":50,"v":6.6},{"t":762,"h":50,"v":6.6},{"t":772,"h":50,"v":6.55},{"t":782,"h":50,"v":6.5},{"t":792,"h":50,"v":6.5},{"t":802,"h":50,"v":6.5},{"t":812,"h":50,"v":6.55},{"t":822,"h":50,"v":6.6},{"t":832,"h":50,"v":6.6},{"t":842,"h":50,"v":6.65},{"t":852,"h":50,"v":6.8},{"t":862,"h":50,"v":6.9},{"t":872,"h":50,"v":7.1},{"t":882,"h":50,"v":7.2},{"t":892,"h":50,"v":6.7},{"t":902,"h":50,"v":6.25},{"t":912,"h":50,"v":6.25},{"t":922,"h":50,"v":6.3},{"t":932,"h":50,"v":6.25},{"t":942,"h":50,"v":6.25},{"t":952,"h":50,"v":6.25},{"t":962,"h":50,"v":6.3},
{"t":742,"h":30,"v":6.55},{"t":752,"h":30,"v":6.5},{"t":762,"h":30,"v":6.45},{"t":772,"h":30,"v":6.45},{"t":782,"h":30,"v":6.45},{"t":792,"h":30,"v":6.45},{"t":802,"h":30,"v":6.5},{"t":812,"h":30,"v":6.5},{"t":822,"h":30,"v":6.6},{"t":832,"h":30,"v":6.8},{"t":842,"h":30,"v":6.95},{"t":852,"h":30,"v":7},{"t":862,"h":30,"v":7.1},{"t":872,"h":30,"v":7.3},{"t":882,"h":30,"v":7.35},{"t":892,"h":30,"v":6.8},{"t":902,"h":30,"v":6.3},{"t":912,"h":30,"v":6.3},{"t":922,"h":30,"v":6.3},{"t":932,"h":30,"v":6.15},{"t":942,"h":30,"v":6.2},{"t":952,"h":30,"v":6.25},{"t":962,"h":30,"v":6.35},
{"t":742,"h":10,"v":6.4},{"t":752,"h":10,"v":6.35},{"t":762,"h":10,"v":6.3},{"t":772,"h":10,"v":6.3},{"t":782,"h":10,"v":6.35},{"t":792,"h":10,"v":6.45},{"t":802,"h":10,"v":6.4},{"t":812,"h":10,"v":6.4},{"t":822,"h":10,"v":6.45},{"t":832,"h":10,"v":6.7},{"t":842,"h":10,"v":7},{"t":852,"h":10,"v":7.1},{"t":862,"h":10,"v":7.3},{"t":872,"h":10,"v":7.55},{"t":882,"h":10,"v":7.6},{"t":892,"h":10,"v":7},{"t":902,"h":10,"v":6.45},{"t":912,"h":10,"v":6.35},{"t":922,"h":10,"v":6.3},{"t":932,"h":10,"v":6.25},{"t":942,"h":10,"v":6.3},{"t":952,"h":10,"v":6.4},{"t":962,"h":10,"v":6.5}],
"tlines":[
{"c":1,"t":746.8,"h":621},{"c":1,"t":747.5,"h":609},{"c":2,"t":748,"h":567},{"c":2,"t":746.8,"h":558},
{"c":3,"t":819,"h":719},{"c":3,"t":822.8,"h":710},{"c":3,"t":825.1,"h":689},{"c":3,"t":831,"h":683},{"c":3,"t":834.7,"h":689},{"c":3,"t":838.4,"h":710},{"c":3,"t":843.4,"h":719},{"c":3,"t":853.4,"h":700},{"c":3,"t":857,"h":686},{"c":3,"t":859.6,"h":650},{"c":3,"t":863.2,"h":621},{"c":3,"t":869.1,"h":586},{"c":3,"t":873.6,"h":561},{"c":3,"t":878.2,"h":523},{"c":3,"t":881,"h":500},{"c":3,"t":880,"h":480},{"c":3,"t":878.5,"h":468},{"c":3,"t":869,"h":454},{"c":3,"t":862.2,"h":430},{"c":3,"t":857,"h":420},{"c":3,"t":849.7,"h":430},{"c":3,"t":840.5,"h":449},
{"c":4,"t":834.2,"h":475.5},{"c":4,"t":831,"h":486},{"c":4,"t":822.8,"h":492},{"c":4,"t":815.6,"h":507},{"c":4,"t":807.3,"h":519.6},{"c":4,"t":806.3,"h":530},{"c":4,"t":802.6,"h":535},{"c":4,"t":799,"h":559},{"c":4,"t":790.2,"h":570},{"c":4,"t":785.6,"h":583},{"c":4,"t":778.3,"h":600},{"c":4,"t":778,"h":609},{"c":4,"t":775.4,"h":619},{"c":4,"t":775.7,"h":634},{"c":4,"t":782.5,"h":650},{"c":4,"t":790.2,"h":656},{"c":4,"t":796.4,"h":670},{"c":4,"t":798,"h":688},{"c":4,"t":800,"h":708},{"c":4,"t":803.2,"h":720},{"c":4,"t":815.6,"h":725.5},
{"c":5,"t":746.8,"h":518},{"c":5,"t":748.3,"h":530.5},{"c":5,"t":754.5,"h":542.4},{"c":5,"t":759.2,"h":569.8},{"c":5,"t":760.2,"h":597},{"c":5,"t":762,"h":608.7},{"c":5,"t":765.4,"h":582},{"c":5,"t":771,"h":539.4},{"c":5,"t":775.6,"h":524.8},{"c":5,"t":783.5,"h":516.6},{"c":5,"t":790.2,"h":511.4},{"c":5,"t":794.9,"h":481.6},{"c":5,"t":803.2,"h":439},{"c":5,"t":808.9,"h":429.3},{"c":5,"t":816.8,"h":426.8},
{"c":6,"t":824.4,"h":426.2},{"c":6,"t":831,"h":419.2},{"c":6,"t":843.4,"h":413.1},{"c":6,"t":850.8,"h":401},{"c":6,"t":857,"h":394.5},{"c":6,"t":869.1,"h":409.3},{"c":6,"t":880.3,"h":398},{"c":6,"t":895.4,"h":398},
{"c":7,"t":774.2,"h":402.5},{"c":7,"t":771.6,"h":410},{"c":7,"t":770.6,"h":423.8},{"c":7,"t":762,"h":429.8},{"c":7,"t":761,"h":439},{"c":7,"t":762,"h":443},{"c":7,"t":766.4,"h":439},{"c":7,"t":767.4,"h":435.9},{"c":7,"t":775.6,"h":433.5},{"c":7,"t":784.5,"h":435.9},{"c":7,"t":786.1,"h":439.6},{"c":7,"t":790,"h":441.4},{"c":7,"t":790,"h":429.8},{"c":7,"t":795.6,"h":379.7},{"c":7,"t":795.4,"h":369.6},{"c":7,"t":791.8,"h":356.8},{"c":7,"t":789.5,"h":349},
{"c":8,"t":781,"h":390},{"c":8,"t":786.1,"h":369.7},{"c":8,"t":789.4,"h":349.8},
{"c":9,"t":745.8,"h":299.3},{"c":9,"t":750.2,"h":319.9},{"c":9,"t":750.9,"h":330.9},{"c":9,"t":756.3,"h":345.6},{"c":9,"t":762,"h":361.8},{"c":9,"t":771.2,"h":339.8},{"c":9,"t":775.7,"h":336},{"c":9,"t":783.3,"h":341.5},{"c":9,"t":789.4,"h":349.8},
{"c":10,"t":790.3,"h":349.8},{"c":10,"t":795.9,"h":330.2},{"c":10,"t":796.5,"h":320.6},{"c":10,"t":801.5,"h":314},{"c":10,"t":801.9,"h":295.9},{"c":10,"t":803.3,"h":276.3},{"c":10,"t":805.2,"h":290.7},{"c":10,"t":806.6,"h":302.7},{"c":10,"t":816.4,"h":318.9},{"c":10,"t":817.5,"h":323.3},{"c":10,"t":819.2,"h":356},{"c":10,"t":819.4,"h":361},{"c":10,"t":817.3,"h":369.7},{"c":10,"t":819.2,"h":380.7},{"c":10,"t":831.1,"h":386.5},{"c":10,"t":835.5,"h":374.8},{"c":10,"t":843.4,"h":360},{"c":10,"t":846,"h":365.6},{"c":10,"t":857,"h":380},{"c":10,"t":869.1,"h":392.7},{"c":10,"t":880.3,"h":387.9},{"c":10,"t":896.4,"h":386.9},{"c":10,"t":899.9,"h":383.4},{"c":10,"t":904.5,"h":373},{"c":10,"t":909.2,"h":357.7},{"c":10,"t":914.4,"h":331.9},{"c":10,"t":919,"h":320.6},{"c":10,"t":927.8,"h":328.5},{"c":10,"t":928.9,"h":340.5},{"c":10,"t":931.5,"h":344},{"c":10,"t":943.7,"h":333.6},{"c":10,"t":954.2,"h":339.5},{"c":10,"t":955.3,"h":349.8},{"c":10,"t":959.4,"h":360},{"c":10,"t":965.6,"h":368},
{"c":11,"t":902,"h":389.6},{"c":11,"t":905,"h":380},{"c":11,"t":912.3,"h":371.4},{"c":11,"t":919,"h":330},{"c":11,"t":922.7,"h":342},{"c":11,"t":930.9,"h":359.4},
{"c":12,"t":938.7,"h":368.7},{"c":12,"t":943.9,"h":386.9},{"c":12,"t":946.7,"h":389.6},{"c":12,"t":947,"h":400.6},{"c":12,"t":951.1,"h":414.3},{"c":12,"t":952.7,"h":431.5},{"c":12,"t":958,"h":440},{"c":12,"t":966,"h":449},
{"c":13,"t":919,"h":412.6},{"c":13,"t":921.4,"h":400},{"c":13,"t":919.2,"h":393.7},{"c":14,"t":918.9,"h":380.7},{"c":14,"t":919.3,"h":386.9},{"c":14,"t":919.8,"h":380.7},{"c":14,"t":919.3,"h":376.6},{"c":14,"t":918.9,"h":380.7},
{"c":15,"t":739.7,"h":278.7},{"c":15,"t":745.8,"h":257.4},{"c":15,"t":770.7,"h":270},{"c":15,"t":761.9,"h":273.5},{"c":15,"t":756.9,"h":280.4},{"c":15,"t":759.1,"h":290.7},{"c":15,"t":762,"h":293},{"c":15,"t":769.3,"h":283.8},{"c":15,"t":775.7,"h":281.4},{"c":15,"t":784.2,"h":289.7},{"c":15,"t":782.2,"h":300.3},{"c":15,"t":790.3,"h":311.3},{"c":15,"t":793.7,"h":299.3},{"c":15,"t":793.6,"h":290.7},{"c":15,"t":796.2,"h":270},{"c":15,"t":803.3,"h":251.2},{"c":15,"t":812.7,"h":271.8},
{"c":16,"t":820.1,"h":290.7},{"c":16,"t":831.1,"h":310.6},{"c":16,"t":843.4,"h":281},{"c":16,"t":848.4,"h":311.3},{"c":16,"t":857,"h":329.5},{"c":16,"t":859.5,"h":350.8},{"c":16,"t":862.6,"h":361},{"c":16,"t":870.9,"h":380},{"c":16,"t":880.3,"h":382.4},{"c":16,"t":896.4,"h":380.7},{"c":16,"t":904.5,"h":357.7},{"c":16,"t":912.3,"h":313},{"c":16,"t":919,"h":306.2},{"c":16,"t":931.5,"h":312.3},{"c":16,"t":943.7,"h":311.3},{"c":16,"t":948,"h":309.6},{"c":16,"t":950.8,"h":300},{"c":16,"t":948,"h":285.6},{"c":16,"t":943.9,"h":270.1},{"c":16,"t":943.4,"h":256.4},{"c":16,"t":939.7,"h":222},{"c":16,"t":936.6,"h":201.4},{"c":16,"t":936.9,"h":186},{"c":16,"t":935.1,"h":168.8},{"c":16,"t":931.5,"h":155},{"c":16,"t":928.9,"h":139.6},{"c":16,"t":919,"h":117.3},{"c":16,"t":909.7,"h":91.5},{"c":16,"t":904.5,"h":66.8},{"c":16,"t":896.4,"h":63.4},{"c":16,"t":891.6,"h":43.5},{"c":16,"t":883.3,"h":16},{"c":16,"t":882.5,"h":0},
{"c":17,"t":739.7,"h":248.5},{"c":17,"t":743.2,"h":222},{"c":17,"t":745.8,"h":213.4},{"c":17,"t":751.4,"h":220},{"c":17,"t":755.3,"h":237.5},{"c":17,"t":755.8,"h":250.5},{"c":17,"t":762,"h":254.6},{"c":17,"t":775.7,"h":250},{"c":17,"t":790.3,"h":261.5},{"c":17,"t":793.7,"h":241},{"c":17,"t":790.3,"h":228.9},{"c":17,"t":775.7,"h":236.4},{"c":17,"t":771.5,"h":230.6},{"c":17,"t":775.7,"h":222},{"c":17,"t":790.3,"h":216.9},{"c":17,"t":803.3,"h":210},{"c":17,"t":809.4,"h":225.5},{"c":17,"t":815.6,"h":246},{"c":17,"t":827.6,"h":260.8},{"c":17,"t":828,"h":270},{"c":17,"t":831.1,"h":274.2},{"c":17,"t":835.5,"h":263},{"c":17,"t":843.4,"h":260.8},{"c":17,"t":850.4,"h":273.5},{"c":17,"t":856.9,"h":295.9},{"c":17,"t":858.3,"h":299.3},{"c":17,"t":857,"h":310.6},{"c":17,"t":865.7,"h":328.5},{"c":17,"t":865.7,"h":349.1},{"c":17,"t":869.1,"h":361.1},{"c":17,"t":880.3,"h":374.8},{"c":17,"t":894.7,"h":361.1},{"c":17,"t":896.4,"h":350.8},{"c":17,"t":904.5,"h":343.9},{"c":17,"t":907.1,"h":321.6},{"c":17,"t":912.3,"h":304.4},{"c":17,"t":919,"h":294.1},{"c":17,"t":921.9,"h":290},{"c":17,"t":921.9,"h":265},{"c":17,"t":923.2,"h":256.4},{"c":17,"t":922.7,"h":230.6},{"c":17,"t":919,"h":204.9},{"c":17,"t":908.7,"h":187.7},
{"c":18,"t":901.4,"h":182.5},{"c":18,"t":896.4,"h":187.7},{"c":18,"t":887.5,"h":162},{"c":18,"t":879.7,"h":151},{"c":18,"t":878.1,"h":125.9},{"c":18,"t":875,"h":108.7},{"c":18,"t":874.5,"h":91.5},{"c":18,"t":871.9,"h":71},{"c":18,"t":875.6,"h":57.2},{"c":18,"t":876.6,"h":40},{"c":18,"t":875.9,"h":0},
{"c":19,"t":875,"h":339.5},{"c":19,"t":876.6,"h":349},{"c":19,"t":880.3,"h":356.6},{"c":19,"t":887.5,"h":340.5},{"c":19,"t":886.4,"h":328.5},{"c":19,"t":892.6,"h":320},{"c":19,"t":887.5,"h":311.3},{"c":19,"t":880.3,"h":302},{"c":19,"t":874,"h":294},{"c":19,"t":871.9,"h":282},{"c":19,"t":869.1,"h":277},{"c":19,"t":867.3,"h":301},{"c":19,"t":867.6,"h":311},{"c":19,"t":869.3,"h":316.5},
{"c":20,"t":900.9,"h":301},{"c":20,"t":904.5,"h":308.5},{"c":20,"t":907.1,"h":292.4},{"c":20,"t":904.5,"h":275.3},{"c":20,"t":900.9,"h":290.7},{"c":20,"t":900.9,"h":301},
{"c":21,"t":904.5,"h":0},{"c":21,"t":906.6,"h":12.6},{"c":21,"t":912.3,"h":22.9},{"c":21,"t":915.4,"h":41.7},{"c":21,"t":919,"h":46.9},{"c":21,"t":931.5,"h":42.8},{"c":21,"t":935.1,"h":60.6},{"c":21,"t":937.2,"h":84.7},{"c":21,"t":939.7,"h":112.1},{"c":21,"t":943.9,"h":127.6},{"c":21,"t":949.6,"h":146.5},{"c":21,"t":955.8,"h":179.1},{"c":21,"t":955,"h":200.7},
{"c":22,"t":961.5,"h":225.5},{"c":22,"t":964.1,"h":228.9},{"c":22,"t":964.1,"h":249.5},{"c":22,"t":965.6,"h":261.5},
{"c":23,"t":932,"h":0},{"c":23,"t":935,"h":7.4},{"c":23,"t":943.7,"h":24.6},{"c":23,"t":949.6,"h":36.6},{"c":23,"t":951.6,"h":53.8},{"c":23,"t":953.7,"h":71},
{"c":24,"t":961.5,"h":100.1},{"c":24,"t":964.6,"h":113.9},{"c":24,"t":964.6,"h":131},{"c":24,"t":965.6,"h":132.8},
{"c":25,"t":951.6,"h":0.5},{"c":25,"t":954.7,"h":3},{"c":26,"t":962,"h":16},{"c":26,"t":965.6,"h":25.6},
{"c":27,"t":739.7,"h":213.4},{"c":27,"t":743.2,"h":189.4},{"c":27,"t":743.7,"h":170.5},{"c":27,"t":745.8,"h":154.4},{"c":27,"t":752.5,"h":160.2},{"c":27,"t":760,"h":169.8},{"c":27,"t":762,"h":179.1},{"c":27,"t":770.7,"h":179.8},
{"c":28,"t":778.2,"h":182.5},{"c":28,"t":790.8,"h":184.2},{"c":28,"t":792.4,"h":180.8},{"c":28,"t":792.6,"h":168.8},{"c":28,"t":786.6,"h":160.2},{"c":28,"t":787.5,"h":149.2},{"c":28,"t":790.3,"h":147.2},{"c":28,"t":803.3,"h":146.5},{"c":28,"t":815.6,"h":137.5},{"c":28,"t":824.1,"h":139.6},{"c":28,"t":828.5,"h":160.2},{"c":28,"t":831.1,"h":162.6},{"c":28,"t":835,"h":160.2},{"c":28,"t":836.4,"h":149.2},{"c":28,"t":843.4,"h":145.8},{"c":28,"t":847.8,"h":140.3},{"c":28,"t":841.1,"h":120.7},{"c":28,"t":840.4,"h":110.4},{"c":28,"t":843.4,"h":81.2},{"c":28,"t":848.5,"h":71},{"c":28,"t":851.3,"h":62.3},{"c":28,"t":857,"h":56.5},{"c":28,"t":869.1,"h":47.6},{"c":28,"t":870.4,"h":41.7},{"c":28,"t":871.4,"h":16},{"c":28,"t":870.9,"h":0},
{"c":29,"t":765.1,"h":195.2},{"c":29,"t":762,"h":197},{"c":29,"t":758.6,"h":190.4},{"c":29,"t":762,"h":179.1},{"c":30,"t":772.6,"h":189.4},{"c":30,"t":771.2,"h":182.5},
{"c":31,"t":739.7,"h":104.2},{"c":31,"t":744.6,"h":100.1},{"c":31,"t":744.6,"h":88.8},{"c":31,"t":745.8,"h":88},{"c":31,"t":747.9,"h":89.8},{"c":31,"t":747,"h":100.1},{"c":31,"t":756.3,"h":109.7},{"c":31,"t":762,"h":123.1},{"c":31,"t":767,"h":113.9},
{"c":32,"t":774.4,"h":98.4},{"c":32,"t":775.7,"h":96.7},{"c":32,"t":790.3,"h":99.1},{"c":32,"t":793.6,"h":89.8},{"c":32,"t":803.3,"h":80.2},{"c":32,"t":809.4,"h":88},{"c":32,"t":815.6,"h":93.3},{"c":32,"t":824.3,"h":90.9},{"c":32,"t":831.1,"h":85.4},{"c":32,"t":835.5,"h":71},{"c":32,"t":843.4,"h":27},{"c":32,"t":856.9,"h":22.9},{"c":32,"t":858.8,"h":17.7},{"c":32,"t":862.3,"h":3},
{"c":33,"t":739.7,"h":61.3},{"c":33,"t":745.8,"h":52.7},{"c":33,"t":755.8,"h":60.6},{"c":33,"t":762,"h":72.6},{"c":33,"t":767.9,"h":60.6},{"c":33,"t":775.7,"h":49.6},{"c":33,"t":790.3,"h":58.2},{"c":33,"t":803.3,"h":42.4},{"c":33,"t":815.6,"h":67.5},{"c":33,"t":831.1,"h":53},{"c":33,"t":838.8,"h":21.1},{"c":33,"t":848.5,"h":11.9},
{"c":34,"t":739.7,"h":39},{"c":34,"t":745.8,"h":33.2},{"c":34,"t":749.8,"h":34.5},{"c":35,"t":757.2,"h":39},{"c":35,"t":762,"h":43.5},{"c":35,"t":775.7,"h":29},{"c":35,"t":790.3,"h":33.8},{"c":35,"t":803.3,"h":28},{"c":35,"t":815.6,"h":33.8},{"c":35,"t":831.1,"h":30.4},{"c":35,"t":836.4,"h":19.4},{"c":35,"t":843.4,"h":0},
{"c":36,"t":739.7,"h":21.8},{"c":36,"t":745.8,"h":12.6},{"c":36,"t":762,"h":20.4},{"c":36,"t":775.7,"h":12.6},{"c":36,"t":790.3,"h":16.7},{"c":36,"t":807.1,"h":16.7},{"c":37,"t":814.5,"h":16.7},{"c":37,"t":830.8,"h":10.8},{"c":37,"t":830.8,"h":0},
{"c":38,"t":938.7,"h":719},{"c":38,"t":939.8,"h":696},{"c":38,"t":940,"h":678},{"c":38,"t":943,"h":660},{"c":39,"t":947,"h":662},{"c":39,"t":948.5,"h":696},{"c":39,"t":949.5,"h":719}],
"tlabels":[{"t":748.2,"h":589,"l":"19.0","r":90},{"t":837.3,"h":461.8,"l":"19.0","r":40},{"t":820.6,"h":426.8,"l":"18.0","r":3},{"t":777.8,"h":395.8,"l":"17.0","r":20},{"t":873.2,"h":321.6,"l":"14.0","r":-35},{"t":905,"h":181.5,"l":"15.0","r":-5},{"t":958.4,"h":215.2,"l":"17.0","r":-45},{"t":958.4,"h":89,"l":"18.0","r":-45},{"t":958.4,"h":9.8,"l":"19.0","r":-20},{"t":934.6,"h":365.6,"l":"18.0","r":-15},{"t":816.7,"h":283,"l":"16.0","r":-20},{"t":768.6,"h":192.8,"l":"14.0","r":5},{"t":774.7,"h":180.8,"l":"14.0","r":0},{"t":770.7,"h":106,"l":"13.0","r":15},{"t":753.7,"h":37.3,"l":"11.0","r":-5},{"t":810.5,"h":16.7,"l":"10.0","r":0},{"t":853.2,"h":5.7,"l":"12.0","r":30},{"t":945,"h":660,"l":"18.0","r":30}],
"mlines":[
{"c":1,"t":746.4,"h":630},{"c":1,"t":749.9,"h":640},{"c":1,"t":754.6,"h":666},{"c":1,"t":759.3,"h":690.8},{"c":1,"t":762,"h":706.8},{"c":1,"t":775.6,"h":708.7},{"c":1,"t":780.5,"h":700.7},{"c":1,"t":779.7,"h":689.9},{"c":1,"t":771.3,"h":685.3},{"c":1,"t":768.2,"h":678.5},{"c":1,"t":767.4,"h":669.2},{"c":1,"t":768.2,"h":658.5},{"c":1,"t":775.6,"h":632.3},{"c":1,"t":781.1,"h":609.2},{"c":1,"t":790.3,"h":590.1},{"c":1,"t":803.3,"h":590.1},{"c":1,"t":815.7,"h":609.8},{"c":1,"t":824.8,"h":630.7},{"c":1,"t":831.2,"h":637.8},{"c":1,"t":835.2,"h":650.8},{"c":1,"t":838.4,"h":660},{"c":1,"t":843.4,"h":664.6},{"c":1,"t":849.9,"h":670.8},{"c":1,"t":857.3,"h":676},{"c":1,"t":859.9,"h":680},{"c":1,"t":862,"h":690.8},{"c":1,"t":869.3,"h":705.3},{"c":1,"t":875.6,"h":706.2},
{"c":2,"t":881.5,"h":713},{"c":2,"t":896.4,"h":717},{"c":2,"t":899.1,"h":700},{"c":2,"t":899.6,"h":678.5},{"c":2,"t":904.7,"h":652.3},{"c":2,"t":912.6,"h":632.3},{"c":2,"t":919.3,"h":626.1},{"c":2,"t":926.1,"h":616.9},{"c":2,"t":931.6,"h":610.7},{"c":2,"t":938.3,"h":620},{"c":2,"t":934.4,"h":633.8},{"c":2,"t":930.7,"h":640},{"c":2,"t":930.2,"h":660},{"c":2,"t":931.6,"h":662.5},{"c":2,"t":937.5,"h":661.5},{"c":2,"t":943.9,"h":653.8},{"c":2,"t":952,"h":656},{"c":2,"t":957.2,"h":661.5},{"c":2,"t":966.1,"h":664},
{"c":3,"t":941.3,"h":678.5},{"c":3,"t":943.7,"h":693.3},{"c":3,"t":952.8,"h":680},{"c":3,"t":952,"h":673.9},{"c":3,"t":946.8,"h":667.7},
{"c":4,"t":915,"h":720},{"c":4,"t":913.4,"h":709.3},{"c":4,"t":914.1,"h":698.5},{"c":4,"t":911.5,"h":687.7},{"c":4,"t":906.2,"h":680},{"c":4,"t":919.3,"h":664.6},{"c":4,"t":924.8,"h":684.6},{"c":5,"t":928.7,"h":708.7},{"c":5,"t":932.3,"h":712.4},{"c":5,"t":934.9,"h":720},
{"c":6,"t":880.4,"h":693.9},{"c":6,"t":881.5,"h":689.3},{"c":6,"t":880.6,"h":682.2},{"c":6,"t":880,"h":689.3},{"c":6,"t":880.4,"h":693.9},
{"c":7,"t":966,"h":558.4},{"c":7,"t":964,"h":550.7},{"c":7,"t":966,"h":546},
{"c":8,"t":869.3,"h":495.9},{"c":8,"t":871.6,"h":490},{"c":8,"t":869.3,"h":485.4},{"c":8,"t":868,"h":490},{"c":8,"t":869.3,"h":495.9},
{"c":9,"t":803.3,"h":579.9},{"c":9,"t":801.7,"h":570.7},{"c":9,"t":803.6,"h":560.8},
{"c":10,"t":841,"h":553.8},{"c":10,"t":837.3,"h":550.7},{"c":10,"t":841,"h":545.4},
{"c":11,"t":746.4,"h":559},{"c":11,"t":750.9,"h":567.6},{"c":11,"t":753,"h":586},{"c":11,"t":754.1,"h":604.6},{"c":11,"t":757.2,"h":617},{"c":11,"t":762,"h":627.7},{"c":11,"t":766.6,"h":616.9},{"c":11,"t":769.2,"h":604.6},{"c":11,"t":770.3,"h":589},{"c":11,"t":772.4,"h":579.9},{"c":11,"t":779.7,"h":572.2},
{"c":12,"t":786,"h":558.4},{"c":12,"t":790.3,"h":555.3},{"c":12,"t":794.9,"h":550.7},{"c":12,"t":796,"h":536.8},{"c":12,"t":798.6,"h":531.3},{"c":12,"t":803.3,"h":529.1},{"c":12,"t":808,"h":521.4},{"c":12,"t":811.7,"h":499.9},{"c":12,"t":815.7,"h":492.2},{"c":12,"t":821.6,"h":481.4},{"c":12,"t":826.4,"h":450.6},{"c":12,"t":831.2,"h":434.6},{"c":12,"t":838.4,"h":427.5},{"c":12,"t":843.4,"h":419.8},{"c":12,"t":849.9,"h":413.6},{"c":12,"t":856.9,"h":406.5},{"c":12,"t":859.3,"h":410.6},{"c":12,"t":862,"h":420.4},{"c":12,"t":859.9,"h":430.6},{"c":12,"t":865.6,"h":444.4},{"c":12,"t":869.3,"h":450.6},{"c":12,"t":876.1,"h":453.7},{"c":12,"t":880.4,"h":467},{"c":12,"t":896.4,"h":460.4},{"c":12,"t":899.1,"h":450.6},{"c":12,"t":900.1,"h":435.2},{"c":12,"t":904.7,"h":415.2},{"c":12,"t":909.5,"h":422.9},{"c":12,"t":913.1,"h":438.3},{"c":12,"t":913.6,"h":469},{"c":12,"t":919.3,"h":479.8},{"c":12,"t":924,"h":469},{"c":12,"t":931.6,"h":449},{"c":12,"t":937.5,"h":432},{"c":12,"t":943.9,"h":410.6},{"c":12,"t":946.8,"h":427.5},{"c":12,"t":952,"h":449},{"c":12,"t":957.2,"h":458.3},{"c":12,"t":966.1,"h":470},
{"c":13,"t":910,"h":546.7},{"c":13,"t":904.7,"h":550.1},{"c":13,"t":919.3,"h":557.5},{"c":13,"t":921.3,"h":539.9},{"c":13,"t":920.7,"h":512.2},{"c":13,"t":919.3,"h":503.6},{"c":13,"t":917.2,"h":512.2},{"c":13,"t":915.5,"h":529.1},
{"c":14,"t":748.8,"h":356.2},{"c":14,"t":746.7,"h":353.5},{"c":15,"t":746.7,"h":336},{"c":15,"t":748.6,"h":343},
{"c":16,"t":746.4,"h":543.6},{"c":16,"t":755.8,"h":539.9},{"c":16,"t":756.5,"h":529},{"c":16,"t":762,"h":519.3},{"c":16,"t":775.6,"h":516.8},{"c":16,"t":783.9,"h":506},{"c":16,"t":790.3,"h":501.4},{"c":16,"t":794.9,"h":490.6},{"c":16,"t":798.1,"h":459.8},{"c":16,"t":803.3,"h":442.9},{"c":16,"t":810.1,"h":433.6},{"c":16,"t":815.7,"h":427.5},{"c":16,"t":820.6,"h":415.2},{"c":16,"t":831.2,"h":401.3},{"c":16,"t":837.3,"h":381.3},{"c":16,"t":843.4,"h":370.5},{"c":16,"t":857.3,"h":378.2},
{"c":17,"t":863.5,"h":389.6},{"c":17,"t":869.3,"h":397.6},{"c":17,"t":880.4,"h":405.3},{"c":17,"t":891.8,"h":396.7},{"c":17,"t":896.4,"h":389},{"c":17,"t":904.7,"h":379.8},{"c":17,"t":906.4,"h":360.8},{"c":17,"t":912.6,"h":341.3},{"c":17,"t":919.3,"h":330.9},{"c":17,"t":925,"h":336},{"c":17,"t":929.2,"h":346.5},{"c":17,"t":931.6,"h":353.4},{"c":17,"t":943.9,"h":341.3},{"c":17,"t":953,"h":363.9},{"c":17,"t":960.3,"h":377.8},{"c":17,"t":966.1,"h":387.2},
{"c":18,"t":746.7,"h":391.7},{"c":18,"t":754.1,"h":389},{"c":19,"t":759.8,"h":386.5},{"c":19,"t":762,"h":386.5},{"c":19,"t":766.1,"h":381.3},{"c":19,"t":768.7,"h":367.4},{"c":19,"t":771.9,"h":360.4},{"c":19,"t":772.4,"h":350},{"c":19,"t":775.6,"h":342.3},{"c":19,"t":781.8,"h":337.8},{"c":19,"t":787.8,"h":330.9},{"c":19,"t":781.8,"h":322.2},{"c":19,"t":778.2,"h":310},{"c":19,"t":783.9,"h":303},{"c":19,"t":788.1,"h":300.3},{"c":19,"t":775.6,"h":296},{"c":19,"t":767.7,"h":297.1},{"c":19,"t":762,"h":304.8},{"c":19,"t":758.2,"h":300.3},{"c":19,"t":762,"h":295.4},{"c":19,"t":765,"h":293.6},{"c":19,"t":766.1,"h":289.1},{"c":19,"t":772.9,"h":280.4},{"c":19,"t":762,"h":277},{"c":19,"t":749.3,"h":270},{"c":19,"t":749.3,"h":257.8},{"c":19,"t":753.7,"h":249.8},{"c":19,"t":745.8,"h":240.4},{"c":19,"t":744.3,"h":247.4},{"c":19,"t":744.1,"h":270},{"c":19,"t":742.3,"h":287.4},{"c":19,"t":742.5,"h":299.6},
{"c":20,"t":760.3,"h":457.4},{"c":20,"t":758.8,"h":451},{"c":20,"t":760.3,"h":441.3},{"c":20,"t":762,"h":436},{"c":20,"t":764.8,"h":437.7},{"c":20,"t":765.6,"h":451.2},
{"c":21,"t":768.2,"h":419.8},{"c":21,"t":768,"h":431.5},{"c":21,"t":775.6,"h":434.3},{"c":21,"t":778.7,"h":430.6},{"c":21,"t":782.9,"h":410.6},{"c":21,"t":782.4,"h":396.7},{"c":21,"t":775.6,"h":382.8},{"c":21,"t":773.4,"h":402},
{"c":22,"t":739.7,"h":183},{"c":22,"t":741,"h":169.2},{"c":22,"t":745.8,"h":148.3},{"c":22,"t":753.5,"h":153.5},{"c":22,"t":762,"h":161.5},{"c":22,"t":767.2,"h":158.7},{"c":22,"t":771.9,"h":150},{"c":22,"t":775.6,"h":146.6},{"c":22,"t":783.9,"h":151},{"c":22,"t":790.3,"h":152.5},{"c":22,"t":803.3,"h":151.8},{"c":22,"t":815.7,"h":158.7},
{"c":23,"t":824.8,"h":166.4},{"c":23,"t":831.2,"h":175.4},{"c":23,"t":843.4,"h":180.3},{"c":23,"t":845.7,"h":200.5},{"c":23,"t":850.1,"h":219.6},{"c":23,"t":850.1,"h":230},{"c":23,"t":853.1,"h":236},{"c":23,"t":859.4,"h":240.5},{"c":23,"t":857.3,"h":245.7},{"c":23,"t":852.5,"h":250.9},{"c":23,"t":857.3,"h":252.6},{"c":23,"t":863.3,"h":259.6},{"c":23,"t":866,"h":287.4},{"c":23,"t":864.8,"h":320.4},{"c":23,"t":868.8,"h":339.5},{"c":23,"t":870.9,"h":351.7},{"c":23,"t":870.4,"h":367.4},{"c":23,"t":874,"h":381.3},{"c":23,"t":880.4,"h":391.7},{"c":23,"t":886.7,"h":379.5},{"c":23,"t":888.2,"h":363.9},{"c":23,"t":891,"h":351.7},{"c":23,"t":892.9,"h":320.4},{"c":23,"t":892.4,"h":299.6},{"c":23,"t":894.4,"h":287.4},{"c":23,"t":896.2,"h":247.4},{"c":23,"t":900.1,"h":247.4},{"c":23,"t":902.4,"h":270},{"c":23,"t":900.7,"h":301.3},{"c":23,"t":904.7,"h":307.2},{"c":23,"t":912.4,"h":300.6},{"c":23,"t":913.1,"h":283.9},{"c":23,"t":919.3,"h":273.5},{"c":23,"t":925,"h":267.6},{"c":23,"t":931.6,"h":265.8},{"c":23,"t":935.4,"h":259.6},{"c":23,"t":934.9,"h":249.1},{"c":23,"t":939,"h":240.5},{"c":23,"t":937.2,"h":230},{"c":23,"t":939.2,"h":220.6},{"c":23,"t":937.5,"h":210.2},{"c":23,"t":943.9,"h":198.7},{"c":23,"t":948.7,"h":210.2},{"c":23,"t":947,"h":228.3},{"c":23,"t":946,"h":240.5},{"c":23,"t":956.1,"h":256},{"c":23,"t":966.1,"h":263},
{"c":24,"t":847.6,"h":276.3},{"c":24,"t":843.6,"h":280.4},{"c":24,"t":841.3,"h":270},{"c":24,"t":843.6,"h":262},{"c":24,"t":848.4,"h":264.8},
{"c":25,"t":798.4,"h":144.8},{"c":25,"t":795.4,"h":140.3},{"c":25,"t":803.3,"h":132.7},{"c":25,"t":806.6,"h":140.3},{"c":25,"t":803.3,"h":151.8},
{"c":26,"t":913.4,"h":170.9},{"c":26,"t":904.7,"h":160.5},{"c":26,"t":902.4,"h":169.2},{"c":26,"t":902.4,"h":210.9},{"c":26,"t":904.7,"h":220.6},{"c":26,"t":914.6,"h":213.3},{"c":26,"t":916.2,"h":200.5},{"c":26,"t":911.5,"h":190},
{"c":27,"t":904.7,"h":142.4},{"c":27,"t":908.2,"h":140.3},{"c":27,"t":904.7,"h":137.2},{"c":27,"t":904.7,"h":142.4},
{"c":28,"t":739.7,"h":99},{"c":28,"t":742.5,"h":68.3},{"c":28,"t":745.8,"h":54.4},{"c":28,"t":753.5,"h":57.9},{"c":28,"t":762,"h":63.8},{"c":28,"t":769.2,"h":56.2},{"c":28,"t":775.6,"h":53.7},{"c":28,"t":783.4,"h":51},
{"c":29,"t":789.7,"h":46.4},{"c":29,"t":803.3,"h":45},{"c":29,"t":813.2,"h":50.3},{"c":29,"t":817.4,"h":63.1},{"c":29,"t":823.7,"h":69.4},{"c":29,"t":831.2,"h":71.8},{"c":29,"t":843.4,"h":56.2},{"c":29,"t":847.3,"h":59.6},{"c":29,"t":857.3,"h":87.5},{"c":29,"t":863.5,"h":101.4},{"c":29,"t":865.4,"h":110},{"c":29,"t":864.8,"h":129.2},{"c":29,"t":866.2,"h":132.7},{"c":29,"t":873,"h":150},{"c":29,"t":874,"h":169.2},{"c":29,"t":875.1,"h":207.4},{"c":29,"t":876.7,"h":230},{"c":29,"t":876.1,"h":240.5},{"c":29,"t":880.4,"h":262},{"c":29,"t":886.4,"h":240.5},{"c":29,"t":887.2,"h":219.6},{"c":29,"t":886.7,"h":179.6},{"c":29,"t":888.2,"h":169.2},{"c":29,"t":889.8,"h":140.3},{"c":29,"t":888.2,"h":130.9},{"c":29,"t":888.7,"h":101.4},{"c":29,"t":890.3,"h":90.9},{"c":29,"t":889.8,"h":77},{"c":29,"t":891.8,"h":38.8},{"c":29,"t":896.4,"h":20.7},{"c":29,"t":903.2,"h":12.7},{"c":29,"t":901.7,"h":0},
{"c":30,"t":739.7,"h":22},{"c":30,"t":745.8,"h":20.7},{"c":30,"t":751.4,"h":9.9},{"c":30,"t":762,"h":5.8},{"c":30,"t":775.6,"h":6.8},{"c":30,"t":782.9,"h":11},{"c":30,"t":790.3,"h":17.9},{"c":30,"t":803.3,"h":16.2},{"c":30,"t":810.6,"h":12},{"c":31,"t":815.9,"h":11},{"c":31,"t":831.2,"h":1.2},
{"c":32,"t":850.4,"h":0},{"c":32,"t":853.1,"h":7.5},{"c":32,"t":857.3,"h":12},{"c":32,"t":860.9,"h":28.4},{"c":32,"t":865.6,"h":44},{"c":32,"t":869.3,"h":60.3},{"c":32,"t":880.4,"h":69},{"c":32,"t":884.6,"h":52.7},{"c":33,"t":888.7,"h":17.2},{"c":33,"t":893.1,"h":11},{"c":33,"t":892.4,"h":0},
{"c":34,"t":841.5,"h":20.7},{"c":34,"t":843.4,"h":18},{"c":35,"t":864.4,"h":0},{"c":35,"t":866.2,"h":11},{"c":35,"t":869.3,"h":15.1},{"c":36,"t":875.6,"h":11},{"c":36,"t":880.8,"h":2.3},{"c":36,"t":882,"h":0},
{"c":37,"t":964,"h":1.2},{"c":37,"t":966,"h":1.2}],
"mlabels":[{"t":878.6,"h":709.7,"l":"4.5","r":-5},{"t":860.4,"h":385,"l":"5.5","r":-15},{"t":756.5,"h":388.9,"l":"5.5","r":3},{"t":782.7,"h":564.5,"l":"5.0","r":20},{"t":912.6,"h":540,"l":"5.0","r":50},{"t":820.6,"h":162,"l":"6.0","r":-10},{"t":786.5,"h":50,"l":"6.5","r":5},{"t":813.8,"h":12,"l":"6.5","r":5},{"t":886.9,"h":31.8,"l":"7.0","r":60},{"t":925.5,"h":700.6,"l":"4.0","r":-60},{"t":943.7,"h":667.7,"l":"4.5","r":60},{"t":751.4,"h":348,"l":"5.0","r":-90},{"t":807.5,"h":570,"l":"4.5","r":90},{"t":844.9,"h":549.7,"l":"4.5","r":90},{"t":762.7,"h":460,"l":"6.0","r":0},{"t":771.9,"h":416,"l":"6.0","r":45},{"t":851,"h":272.8,"l":"6.0","r":25},{"t":800.7,"h":148,"l":"6.0","r":0},{"t":910.2,"h":177.9,"l":"6.0","r":-50},{"t":846.8,"h":21.4,"l":"7.0","r":0},{"t":872.4,"h":14.5,"l":"7.5","r":5},{"t":960.8,"h":3,"l":"6.5","r":0}],
"wind":[
{"t":740,"h":0,"s":5,"d":149},{"t":740,"h":40,"s":10,"d":172},{"t":740,"h":80,"s":15,"d":178},{"t":740,"h":120,"s":20,"d":182},{"t":740,"h":160,"s":20,"d":188},{"t":740,"h":200,"s":25,"d":189},{"t":740,"h":240,"s":30,"d":190},{"t":740,"h":280,"s":35,"d":191},
{"t":750,"h":0,"s":5,"d":143},{"t":750,"h":40,"s":10,"d":166},{"t":750,"h":80,"s":15,"d":183},{"t":750,"h":120,"s":20,"d":184},{"t":750,"h":160,"s":20,"d":194},{"t":750,"h":200,"s":25,"d":192},{"t":750,"h":240,"s":30,"d":195},{"t":750,"h":280,"s":35,"d":201},{"t":750,"h":320,"s":35,"d":202},{"t":750,"h":360,"s":35,"d":211},{"t":750,"h":400,"s":35,"d":211},{"t":750,"h":440,"s":35,"d":210},{"t":750,"h":480,"s":35,"d":216},{"t":750,"h":520,"s":30,"d":220},{"t":750,"h":560,"s":25,"d":220},{"t":750,"h":600,"s":25,"d":218},{"t":750,"h":640,"s":25,"d":221},{"t":750,"h":680,"s":20,"d":232},{"t":750,"h":720,"s":20,"d":235},
{"t":760,"h":0,"s":5,"d":155},{"t":760,"h":40,"s":10,"d":165},{"t":760,"h":80,"s":15,"d":182},{"t":760,"h":120,"s":20,"d":182},{"t":760,"h":160,"s":20,"d":194},{"t":760,"h":200,"s":25,"d":191},{"t":760,"h":240,"s":30,"d":195},{"t":760,"h":280,"s":30,"d":201},{"t":760,"h":320,"s":35,"d":203},{"t":760,"h":360,"s":35,"d":211},{"t":760,"h":400,"s":35,"d":213},{"t":760,"h":440,"s":35,"d":215},{"t":760,"h":480,"s":35,"d":216},{"t":760,"h":520,"s":30,"d":220},{"t":760,"h":560,"s":30,"d":220},{"t":760,"h":600,"s":25,"d":224},{"t":760,"h":640,"s":25,"d":225},{"t":760,"h":680,"s":25,"d":230},{"t":760,"h":720,"s":20,"d":232},
{"t":770,"h":0,"s":5,"d":160},{"t":770,"h":40,"s":10,"d":168},{"t":770,"h":80,"s":15,"d":180},{"t":770,"h":120,"s":20,"d":185},{"t":770,"h":160,"s":20,"d":194},{"t":770,"h":200,"s":25,"d":191},{"t":770,"h":240,"s":30,"d":195},{"t":770,"h":280,"s":30,"d":201},{"t":770,"h":320,"s":35,"d":204},{"t":770,"h":360,"s":35,"d":211},{"t":770,"h":400,"s":35,"d":213},{"t":770,"h":440,"s":35,"d":215},{"t":770,"h":480,"s":35,"d":218},{"t":770,"h":520,"s":30,"d":220},{"t":770,"h":560,"s":25,"d":225},{"t":770,"h":600,"s":25,"d":226},{"t":770,"h":640,"s":25,"d":226},{"t":770,"h":680,"s":20,"d":228},{"t":770,"h":720,"s":25,"d":227},
{"t":780,"h":0,"s":5,"d":165},{"t":780,"h":40,"s":10,"d":172},{"t":780,"h":80,"s":15,"d":180},{"t":780,"h":120,"s":20,"d":187},{"t":780,"h":160,"s":20,"d":194},{"t":780,"h":200,"s":25,"d":191},{"t":780,"h":240,"s":30,"d":195},{"t":780,"h":280,"s":35,"d":201},{"t":780,"h":320,"s":35,"d":202},{"t":780,"h":360,"s":35,"d":211},{"t":780,"h":400,"s":35,"d":213},{"t":780,"h":440,"s":35,"d":215},{"t":780,"h":480,"s":35,"d":218},{"t":780,"h":520,"s":30,"d":220},{"t":780,"h":560,"s":25,"d":222},{"t":780,"h":600,"s":25,"d":222},{"t":780,"h":640,"s":25,"d":222},{"t":780,"h":680,"s":20,"d":225},{"t":780,"h":720,"s":25,"d":222},
{"t":790,"h":0,"s":5,"d":168},{"t":790,"h":40,"s":10,"d":173},{"t":790,"h":80,"s":15,"d":180},{"t":790,"h":120,"s":20,"d":187},{"t":790,"h":160,"s":20,"d":192},{"t":790,"h":200,"s":30,"d":190},{"t":790,"h":240,"s":30,"d":192},{"t":790,"h":280,"s":35,"d":197},{"t":790,"h":320,"s":35,"d":203},{"t":790,"h":360,"s":35,"d":213},{"t":790,"h":400,"s":35,"d":212},{"t":790,"h":440,"s":35,"d":218},{"t":790,"h":480,"s":30,"d":220},{"t":790,"h":520,"s":30,"d":222},{"t":790,"h":560,"s":25,"d":223},{"t":790,"h":600,"s":25,"d":225},{"t":790,"h":640,"s":25,"d":225},{"t":790,"h":680,"s":20,"d":225},{"t":790,"h":720,"s":25,"d":225},
{"t":800,"h":0,"s":5,"d":151},{"t":800,"h":40,"s":15,"d":177},{"t":800,"h":80,"s":15,"d":182},{"t":800,"h":120,"s":20,"d":186},{"t":800,"h":160,"s":20,"d":193},{"t":800,"h":200,"s":25,"d":188},{"t":800,"h":240,"s":30,"d":195},{"t":800,"h":280,"s":30,"d":200},{"t":800,"h":320,"s":35,"d":202},{"t":800,"h":360,"s":35,"d":210},{"t":800,"h":400,"s":30,"d":208},{"t":800,"h":440,"s":30,"d":215},{"t":800,"h":480,"s":30,"d":220},{"t":800,"h":520,"s":30,"d":222},{"t":800,"h":560,"s":25,"d":223},{"t":800,"h":600,"s":25,"d":224},{"t":800,"h":640,"s":20,"d":225},{"t":800,"h":680,"s":25,"d":227},{"t":800,"h":720,"s":25,"d":224},
{"t":810,"h":0,"s":5,"d":140},{"t":810,"h":40,"s":10,"d":175},{"t":810,"h":80,"s":15,"d":180},{"t":810,"h":120,"s":20,"d":186},{"t":810,"h":160,"s":20,"d":193},{"t":810,"h":200,"s":25,"d":188},{"t":810,"h":240,"s":30,"d":195},{"t":810,"h":280,"s":35,"d":200},{"t":810,"h":320,"s":35,"d":204},{"t":810,"h":360,"s":35,"d":208},{"t":810,"h":400,"s":30,"d":208},{"t":810,"h":440,"s":25,"d":217},{"t":810,"h":480,"s":25,"d":222},{"t":810,"h":520,"s":30,"d":222},{"t":810,"h":560,"s":25,"d":222},{"t":810,"h":600,"s":25,"d":222},{"t":810,"h":640,"s":25,"d":222},{"t":810,"h":680,"s":25,"d":224},{"t":810,"h":720,"s":25,"d":224},
{"t":820,"h":0,"s":5,"d":128},{"t":820,"h":40,"s":10,"d":172},{"t":820,"h":80,"s":15,"d":181},{"t":820,"h":120,"s":20,"d":187},{"t":820,"h":160,"s":20,"d":193},{"t":820,"h":200,"s":25,"d":188},{"t":820,"h":240,"s":30,"d":195},{"t":820,"h":280,"s":35,"d":200},{"t":820,"h":320,"s":35,"d":203},{"t":820,"h":360,"s":35,"d":210},{"t":820,"h":400,"s":30,"d":210},{"t":820,"h":440,"s":25,"d":220},{"t":820,"h":480,"s":25,"d":222},{"t":820,"h":520,"s":30,"d":222},{"t":820,"h":560,"s":25,"d":222},{"t":820,"h":600,"s":25,"d":222},{"t":820,"h":640,"s":25,"d":222},{"t":820,"h":680,"s":25,"d":224},{"t":820,"h":720,"s":25,"d":225},
{"t":830,"h":0,"s":5,"d":130},{"t":830,"h":40,"s":10,"d":175},{"t":830,"h":80,"s":15,"d":180},{"t":830,"h":120,"s":20,"d":185},{"t":830,"h":160,"s":20,"d":194},{"t":830,"h":200,"s":25,"d":188},{"t":830,"h":240,"s":30,"d":193},{"t":830,"h":280,"s":30,"d":200},{"t":830,"h":320,"s":35,"d":205},{"t":830,"h":360,"s":30,"d":210},{"t":830,"h":400,"s":30,"d":214},{"t":830,"h":440,"s":25,"d":228},{"t":830,"h":480,"s":25,"d":225},{"t":830,"h":520,"s":30,"d":225},{"t":830,"h":560,"s":20,"d":227},{"t":830,"h":600,"s":20,"d":230},{"t":830,"h":640,"s":25,"d":230},{"t":830,"h":680,"s":25,"d":228},{"t":830,"h":720,"s":25,"d":229},
{"t":840,"h":0,"s":5,"d":151},{"t":840,"h":40,"s":10,"d":176},{"t":840,"h":80,"s":15,"d":185},{"t":840,"h":120,"s":15,"d":192},{"t":840,"h":160,"s":20,"d":195},{"t":840,"h":200,"s":25,"d":191},{"t":840,"h":240,"s":30,"d":195},{"t":840,"h":280,"s":30,"d":206},{"t":840,"h":320,"s":30,"d":216},{"t":840,"h":360,"s":30,"d":216},{"t":840,"h":400,"s":25,"d":229},{"t":840,"h":440,"s":25,"d":229},{"t":840,"h":480,"s":25,"d":229},{"t":840,"h":520,"s":25,"d":229},{"t":840,"h":560,"s":25,"d":229},{"t":840,"h":600,"s":25,"d":229},{"t":840,"h":640,"s":25,"d":229},{"t":840,"h":680,"s":25,"d":230},{"t":840,"h":720,"s":25,"d":230},
{"t":850,"h":0,"s":5,"d":154},{"t":850,"h":40,"s":10,"d":180},{"t":850,"h":80,"s":15,"d":187},{"t":850,"h":120,"s":15,"d":193},{"t":850,"h":160,"s":20,"d":192},{"t":850,"h":200,"s":20,"d":190},{"t":850,"h":240,"s":20,"d":195},{"t":850,"h":280,"s":30,"d":210},{"t":850,"h":320,"s":30,"d":215},{"t":850,"h":360,"s":30,"d":215},{"t":850,"h":400,"s":25,"d":227},{"t":850,"h":440,"s":25,"d":227},{"t":850,"h":480,"s":25,"d":227},{"t":850,"h":520,"s":25,"d":227},{"t":850,"h":560,"s":25,"d":227},{"t":850,"h":600,"s":25,"d":227},{"t":850,"h":640,"s":25,"d":227},{"t":850,"h":680,"s":25,"d":227},{"t":850,"h":720,"s":25,"d":227},
{"t":860,"h":0,"s":5,"d":150},{"t":860,"h":40,"s":10,"d":180},{"t":860,"h":80,"s":15,"d":184},{"t":860,"h":120,"s":15,"d":192},{"t":860,"h":160,"s":20,"d":191},{"t":860,"h":200,"s":20,"d":195},{"t":860,"h":240,"s":20,"d":191},{"t":860,"h":280,"s":20,"d":200},{"t":860,"h":320,"s":30,"d":210},{"t":860,"h":360,"s":30,"d":216},{"t":860,"h":400,"s":25,"d":227},{"t":860,"h":440,"s":25,"d":227},{"t":860,"h":480,"s":25,"d":227},{"t":860,"h":520,"s":25,"d":227},{"t":860,"h":560,"s":25,"d":227},{"t":860,"h":600,"s":25,"d":227},{"t":860,"h":640,"s":25,"d":227},{"t":860,"h":680,"s":25,"d":227},{"t":860,"h":720,"s":25,"d":227},
{"t":870,"h":0,"s":5,"d":131},{"t":870,"h":40,"s":10,"d":180},{"t":870,"h":80,"s":15,"d":185},{"t":870,"h":120,"s":15,"d":194},{"t":870,"h":160,"s":20,"d":190},{"t":870,"h":200,"s":20,"d":190},{"t":870,"h":240,"s":20,"d":184},{"t":870,"h":280,"s":20,"d":192},{"t":870,"h":320,"s":30,"d":197},{"t":870,"h":360,"s":30,"d":203},{"t":870,"h":400,"s":25,"d":227},{"t":870,"h":440,"s":25,"d":227},{"t":870,"h":480,"s":25,"d":227},{"t":870,"h":520,"s":25,"d":227},{"t":870,"h":560,"s":25,"d":227},{"t":870,"h":600,"s":25,"d":227},{"t":870,"h":640,"s":25,"d":227},{"t":870,"h":680,"s":25,"d":227},{"t":870,"h":720,"s":25,"d":227},
{"t":880,"h":0,"s":10,"d":197},{"t":880,"h":40,"s":10,"d":197},{"t":880,"h":80,"s":15,"d":184},{"t":880,"h":120,"s":15,"d":202},{"t":880,"h":160,"s":15,"d":200},{"t":880,"h":200,"s":20,"d":195},{"t":880,"h":240,"s":15,"d":195},{"t":880,"h":280,"s":20,"d":195},{"t":880,"h":320,"s":20,"d":195},{"t":880,"h":360,"s":25,"d":204},{"t":880,"h":400,"s":25,"d":227},{"t":880,"h":440,"s":25,"d":227},{"t":880,"h":480,"s":25,"d":227},{"t":880,"h":520,"s":25,"d":227},{"t":880,"h":560,"s":25,"d":227},{"t":880,"h":600,"s":25,"d":227},{"t":880,"h":640,"s":25,"d":227},{"t":880,"h":680,"s":25,"d":227},{"t":880,"h":720,"s":25,"d":227},
{"t":890,"h":0,"s":10,"d":197},{"t":890,"h":40,"s":10,"d":204},{"t":890,"h":80,"s":15,"d":202},{"t":890,"h":120,"s":10,"d":199},{"t":890,"h":160,"s":15,"d":195},{"t":890,"h":200,"s":15,"d":196},{"t":890,"h":240,"s":15,"d":196},{"t":890,"h":280,"s":20,"d":196},{"t":890,"h":320,"s":20,"d":196},{"t":890,"h":360,"s":20,"d":204},{"t":890,"h":400,"s":25,"d":227},{"t":890,"h":440,"s":25,"d":227},{"t":890,"h":480,"s":25,"d":227},{"t":890,"h":520,"s":25,"d":227},{"t":890,"h":560,"s":25,"d":227},{"t":890,"h":600,"s":25,"d":227},{"t":890,"h":640,"s":25,"d":227},{"t":890,"h":680,"s":25,"d":227},{"t":890,"h":720,"s":25,"d":227},
{"t":900,"h":0,"s":10,"d":194},{"t":900,"h":40,"s":15,"d":196},{"t":900,"h":80,"s":15,"d":196},{"t":900,"h":120,"s":15,"d":196},{"t":900,"h":160,"s":20,"d":200},{"t":900,"h":200,"s":20,"d":200},{"t":900,"h":240,"s":20,"d":200},{"t":900,"h":280,"s":20,"d":203},{"t":900,"h":320,"s":20,"d":203},{"t":900,"h":360,"s":25,"d":216},{"t":900,"h":440,"s":30,"d":230},{"t":900,"h":480,"s":25,"d":227},{"t":900,"h":520,"s":25,"d":227},{"t":900,"h":560,"s":25,"d":227},{"t":900,"h":600,"s":25,"d":227},{"t":900,"h":640,"s":25,"d":227},{"t":900,"h":680,"s":25,"d":227},{"t":900,"h":720,"s":25,"d":227},
{"t":910,"h":0,"s":10,"d":187},{"t":910,"h":40,"s":10,"d":194},{"t":910,"h":80,"s":15,"d":197},{"t":910,"h":120,"s":15,"d":200},{"t":910,"h":160,"s":15,"d":200},{"t":910,"h":200,"s":15,"d":200},{"t":910,"h":240,"s":15,"d":200},{"t":910,"h":280,"s":15,"d":208},{"t":910,"h":320,"s":20,"d":212},{"t":910,"h":360,"s":25,"d":226},{"t":910,"h":440,"s":25,"d":228},{"t":910,"h":480,"s":25,"d":227},{"t":910,"h":520,"s":25,"d":227},{"t":910,"h":560,"s":25,"d":227},{"t":910,"h":600,"s":25,"d":227},{"t":910,"h":640,"s":25,"d":227},{"t":910,"h":680,"s":25,"d":227},{"t":910,"h":720,"s":25,"d":227},
{"t":920,"h":0,"s":10,"d":177},{"t":920,"h":40,"s":10,"d":198},{"t":920,"h":80,"s":10,"d":206},{"t":920,"h":120,"s":15,"d":200},{"t":920,"h":160,"s":15,"d":204},{"t":920,"h":200,"s":15,"d":200},{"t":920,"h":240,"s":15,"d":200},{"t":920,"h":280,"s":20,"d":206},{"t":920,"h":320,"s":25,"d":227},{"t":920,"h":360,"s":25,"d":227},{"t":920,"h":400,"s":25,"d":227},{"t":920,"h":440,"s":25,"d":227},{"t":920,"h":480,"s":25,"d":227},{"t":920,"h":520,"s":25,"d":227},{"t":920,"h":560,"s":25,"d":227},{"t":920,"h":600,"s":25,"d":227},{"t":920,"h":640,"s":25,"d":227},{"t":920,"h":680,"s":25,"d":227},{"t":920,"h":720,"s":25,"d":227},
{"t":930,"h":0,"s":10,"d":180},{"t":930,"h":40,"s":15,"d":184},{"t":930,"h":80,"s":15,"d":184},{"t":930,"h":120,"s":15,"d":184},{"t":930,"h":160,"s":15,"d":184},{"t":930,"h":200,"s":15,"d":188},{"t":930,"h":240,"s":15,"d":188},{"t":930,"h":280,"s":15,"d":206},{"t":930,"h":320,"s":20,"d":211},{"t":930,"h":360,"s":25,"d":225},{"t":930,"h":400,"s":25,"d":225},{"t":930,"h":440,"s":30,"d":225},{"t":930,"h":480,"s":25,"d":225},{"t":930,"h":520,"s":25,"d":225},{"t":930,"h":560,"s":25,"d":225},{"t":930,"h":600,"s":25,"d":225},{"t":930,"h":640,"s":25,"d":225},{"t":930,"h":680,"s":25,"d":225},{"t":930,"h":720,"s":25,"d":225},
{"t":940,"h":0,"s":10,"d":197},{"t":940,"h":40,"s":10,"d":195},{"t":940,"h":80,"s":15,"d":180},{"t":940,"h":120,"s":15,"d":198},{"t":940,"h":160,"s":15,"d":200},{"t":940,"h":200,"s":15,"d":200},{"t":940,"h":240,"s":15,"d":200},{"t":940,"h":280,"s":15,"d":205},{"t":940,"h":320,"s":20,"d":213},{"t":940,"h":360,"s":25,"d":225},{"t":940,"h":400,"s":25,"d":225},{"t":940,"h":440,"s":30,"d":225},{"t":940,"h":480,"s":30,"d":225},{"t":940,"h":520,"s":25,"d":225},{"t":940,"h":560,"s":25,"d":225},{"t":940,"h":600,"s":25,"d":225},{"t":940,"h":640,"s":25,"d":225},{"t":940,"h":680,"s":25,"d":225},{"t":940,"h":720,"s":25,"d":225},
{"t":950,"h":0,"s":10,"d":200},{"t":950,"h":40,"s":10,"d":195},{"t":950,"h":80,"s":10,"d":185},{"t":950,"h":120,"s":10,"d":205},{"t":950,"h":160,"s":15,"d":200},{"t":950,"h":200,"s":15,"d":200},{"t":950,"h":240,"s":15,"d":200},{"t":950,"h":280,"s":15,"d":202},{"t":950,"h":320,"s":20,"d":213},{"t":950,"h":360,"s":25,"d":225},{"t":950,"h":400,"s":25,"d":225},{"t":950,"h":440,"s":30,"d":225},{"t":950,"h":480,"s":30,"d":225},{"t":950,"h":520,"s":30,"d":225},{"t":950,"h":560,"s":25,"d":225},{"t":950,"h":600,"s":25,"d":225},{"t":950,"h":640,"s":25,"d":225},{"t":950,"h":680,"s":25,"d":225},{"t":950,"h":720,"s":25,"d":225},
{"t":960,"h":0,"s":10,"d":194},{"t":960,"h":40,"s":15,"d":190},{"t":960,"h":80,"s":15,"d":193},{"t":960,"h":120,"s":15,"d":210},{"t":960,"h":160,"s":15,"d":202},{"t":960,"h":200,"s":15,"d":200},{"t":960,"h":240,"s":15,"d":200},{"t":960,"h":280,"s":15,"d":202},{"t":960,"h":320,"s":20,"d":214},{"t":960,"h":360,"s":25,"d":220},{"t":960,"h":400,"s":25,"d":226},{"t":960,"h":440,"s":30,"d":227},{"t":960,"h":480,"s":25,"d":227},{"t":960,"h":520,"s":25,"d":227},{"t":960,"h":560,"s":25,"d":227},{"t":960,"h":600,"s":25,"d":227},{"t":960,"h":640,"s":25,"d":227},{"t":960,"h":680,"s":25,"d":227},{"t":960,"h":720,"s":25,"d":227}]
},
"vconcat":[
{"bounds":"flush","spacing":87.5,"resolve":{"scale":{"color":"independent"}},"hconcat":[
{"width":1393,"height":973,"view":{"stroke":"#333","strokeWidth":2},
"title":{"text":"Temperature 18 Oct 2017","dx":42,"offset":14},
"encoding":{
"x":{"field":"t","type":"quantitative","scale":{"domain":[739.7,966.8],"nice":false},"axis":{"values":[753,783,813,843,873,903,933,963],"labelExpr":"floor(datum.value/60)+':'+(datum.value%60<10?'0':'')+datum.value%60","labelFontSize":38,"title":"Time UTC","titleX":716,"titlePadding":6}},
"y":{"field":"h","type":"quantitative","scale":{"domain":[0,748],"nice":false},"axis":{"values":[0,100,200,300,400,500,600,700],"title":"Altitude AGL (m)"}}},
"layer":[
{"data":{"name":"temp"},"transform":[{"filter":"datum.h>=100"}],"mark":{"type":"rect","width":62.6,"height":52.8,"clip":true},"encoding":{"color":{"field":"v","type":"quantitative","legend":null,"scale":{"domain":[9,9.6,10.2,10.8,11.4,12,12.6,13.2,13.8,14.4,15,15.6,16.2,16.8,17.4,18,18.6,19.2,19.8],"range":["#04253a","#072d4c","#123269","#29318f","#49339e","#644298","#784c91","#8b558c","#9f5a88","#b15f82","#c5667a","#dd7169","#ee7c58","#f98c46","#fda03b","#fdb63d","#f8ce43","#f1e54d","#e4fb55"]}}}},
{"data":{"name":"temp"},"transform":[{"filter":"datum.h<100"}],"mark":{"type":"rect","width":62.6,"height":26.8,"clip":true},"encoding":{"color":{"field":"v","type":"quantitative","legend":null,"scale":{"domain":[9,9.6,10.2,10.8,11.4,12,12.6,13.2,13.8,14.4,15,15.6,16.2,16.8,17.4,18,18.6,19.2,19.8],"range":["#04253a","#072d4c","#123269","#29318f","#49339e","#644298","#784c91","#8b558c","#9f5a88","#b15f82","#c5667a","#dd7169","#ee7c58","#f98c46","#fda03b","#fdb63d","#f8ce43","#f1e54d","#e4fb55"]}}}},
{"data":{"name":"masks"},"mark":{"type":"rect","color":"white","clip":true},"encoding":{"x":{"field":"a","type":"quantitative","scale":{"domain":[739.7,966.8],"nice":false}},"x2":{"field":"b"},"y":{"field":"p","type":"quantitative","scale":{"domain":[0,748],"nice":false}},"y2":{"field":"q"}}},
{"data":{"name":"casts"},"mark":{"type":"rule","color":"black","strokeWidth":2.6,"strokeDash":[11,6],"clip":true},"encoding":{"y":{"field":"p","type":"quantitative","scale":{"domain":[0,748],"nice":false}},"y2":{"field":"q"}}},
{"data":{"name":"tlines"},"transform":[{"window":[{"op":"row_number","as":"i"}]}],"mark":{"type":"line","color":"black","strokeWidth":2.8,"clip":true},"encoding":{"detail":{"field":"c"},"order":{"field":"i","type":"quantitative"}}},
{"data":{"name":"tlabels"},"mark":{"type":"text","font":"Lato","fontSize":20,"color":"#222","clip":true},"encoding":{"text":{"field":"l"},"angle":{"field":"r","type":"quantitative","scale":null}}}]},
{"width":49,"height":973,"data":{"values":[{"lo":9,"hi":19.8}]},
"mark":{"type":"rect","stroke":"#333","strokeWidth":2,"color":{"gradient":"linear","x1":0,"y1":1,"x2":0,"y2":0,"stops":[{"offset":0,"color":"#04253a"},{"offset":0.056,"color":"#072d4c"},{"offset":0.111,"color":"#123269"},{"offset":0.167,"color":"#29318f"},{"offset":0.222,"color":"#49339e"},{"offset":0.278,"color":"#644298"},{"offset":0.333,"color":"#784c91"},{"offset":0.389,"color":"#8b558c"},{"offset":0.444,"color":"#9f5a88"},{"offset":0.5,"color":"#b15f82"},{"offset":0.556,"color":"#c5667a"},{"offset":0.611,"color":"#dd7169"},{"offset":0.667,"color":"#ee7c58"},{"offset":0.722,"color":"#f98c46"},{"offset":0.778,"color":"#fda03b"},{"offset":0.833,"color":"#fdb63d"},{"offset":0.889,"color":"#f8ce43"},{"offset":0.944,"color":"#f1e54d"},{"offset":1,"color":"#e4fb55"}]}},
"encoding":{"y":{"field":"lo","type":"quantitative","scale":{"domain":[9,19.8],"nice":false},"axis":{"orient":"right","values":[10,12,14,16,18],"title":"Temperature (C)","titleFontSize":45,"titleAngle":-90,"titleY":510,"titlePadding":54}},"y2":{"field":"hi"}}},
{"width":89,"height":1,"data":{"values":[{"a":0}]},"mark":{"type":"rect","opacity":0},"encoding":{}},
{"width":1378,"height":973,
"title":{"text":"Mixing Ratio 18 Oct 2017","dx":35,"offset":1},
"encoding":{
"x":{"field":"t","type":"quantitative","scale":{"domain":[739.7,966.8],"nice":false},"axis":{"values":[753,783,813,843,873,903,933,963],"labelExpr":"floor(datum.value/60)+':'+(datum.value%60<10?'0':'')+datum.value%60","labelFontSize":38,"title":"Time UTC","titleX":712,"titlePadding":6}},
"y":{"field":"h","type":"quantitative","scale":{"domain":[0,757.8],"nice":false},"axis":{"values":[0,100,200,300,400,500,600,700],"title":"Altitude AGL (m)"}}},
"layer":[
{"data":{"name":"mix"},"transform":[{"filter":"datum.h>=100"}],"mark":{"type":"rect","width":61.9,"height":52.2,"clip":true},"encoding":{"color":{"field":"v","type":"quantitative","legend":null,"scale":{"domain":[3.83,4,4.15,4.3,4.5,4.7,5,5.3,5.5,5.8,6,6.3,6.5,6.8,7,7.25,7.5,7.71],"range":["#2a186c","#2b1a80","#2f1e96","#2a2a9d","#173f98","#0d5290","#1a6688","#2f7687","#3a8186","#3f9083","#459c82","#52ae7e","#5dba73","#78cc66","#9dd45b","#c9e06e","#e6e98a","#fced9a"]}}}},
{"data":{"name":"mix"},"transform":[{"filter":"datum.h<100"}],"mark":{"type":"rect","width":61.9,"height":26.4,"clip":true},"encoding":{"color":{"field":"v","type":"quantitative","legend":null,"scale":{"domain":[3.83,4,4.15,4.3,4.5,4.7,5,5.3,5.5,5.8,6,6.3,6.5,6.8,7,7.25,7.5,7.71],"range":["#2a186c","#2b1a80","#2f1e96","#2a2a9d","#173f98","#0d5290","#1a6688","#2f7687","#3a8186","#3f9083","#459c82","#52ae7e","#5dba73","#78cc66","#9dd45b","#c9e06e","#e6e98a","#fced9a"]}}}},
{"data":{"name":"masks"},"mark":{"type":"rect","color":"white","clip":true},"encoding":{"x":{"field":"a","type":"quantitative","scale":{"domain":[739.7,966.8],"nice":false}},"x2":{"field":"b"},"y":{"field":"p","type":"quantitative","scale":{"domain":[0,757.8],"nice":false}},"y2":{"field":"q"}}},
{"data":{"name":"casts"},"mark":{"type":"rule","color":"black","strokeWidth":2.6,"strokeDash":[11,6],"clip":true},"encoding":{"y":{"field":"p","type":"quantitative","scale":{"domain":[0,757.8],"nice":false}},"y2":{"field":"q"}}},
{"data":{"name":"mlines"},"transform":[{"window":[{"op":"row_number","as":"i"}]}],"mark":{"type":"line","color":"black","strokeWidth":2.8,"clip":true},"encoding":{"detail":{"field":"c"},"order":{"field":"i","type":"quantitative"}}},
{"data":{"name":"mlabels"},"mark":{"type":"text","font":"Lato","fontSize":20,"color":"#222","clip":true},"encoding":{"text":{"field":"l"},"angle":{"field":"r","type":"quantitative","scale":null}}},
{"data":{"values":[{"a":739.7,"b":966.8,"p":0,"q":749.6}]},"mark":{"type":"rect","fillOpacity":0,"stroke":"#333","strokeWidth":2},"encoding":{"x":{"field":"a","type":"quantitative","scale":{"domain":[739.7,966.8],"nice":false}},"x2":{"field":"b"},"y":{"field":"p","type":"quantitative","scale":{"domain":[0,757.8],"nice":false}},"y2":{"field":"q"}}}]},
{"width":48,"height":973,"data":{"values":[{"lo":3.83,"hi":7.71}]},
"mark":{"type":"rect","stroke":"#333","strokeWidth":2,"color":{"gradient":"linear","x1":0,"y1":1,"x2":0,"y2":0,"stops":[{"offset":0,"color":"#2a186c"},{"offset":0.044,"color":"#2b1a80"},{"offset":0.082,"color":"#2f1e96"},{"offset":0.121,"color":"#2a2a9d"},{"offset":0.173,"color":"#173f98"},{"offset":0.224,"color":"#0d5290"},{"offset":0.302,"color":"#1a6688"},{"offset":0.379,"color":"#2f7687"},{"offset":0.43,"color":"#3a8186"},{"offset":0.508,"color":"#3f9083"},{"offset":0.559,"color":"#459c82"},{"offset":0.637,"color":"#52ae7e"},{"offset":0.688,"color":"#5dba73"},{"offset":0.765,"color":"#78cc66"},{"offset":0.817,"color":"#9dd45b"},{"offset":0.881,"color":"#c9e06e"},{"offset":0.946,"color":"#e6e98a"},{"offset":1,"color":"#fced9a"}]}},
"encoding":{"y":{"field":"lo","type":"quantitative","scale":{"domain":[3.83,7.752],"nice":false},"axis":{"orient":"right","values":[4,4.5,5,5.5,6,6.5,7,7.5],"format":".1f","title":"Mixing Ratio (g kg-1)","titleFontSize":40,"titleAngle":-90,"titleY":492,"titlePadding":46}},"y2":{"field":"hi"}}}]},
{"bounds":"flush","spacing":0,"hconcat":[
{"width":890,"height":1,"data":{"values":[{"a":0}]},"mark":{"type":"rect","opacity":0},"encoding":{}},
{"width":1608,"height":899,"view":{"stroke":"#333","strokeWidth":2},
"title":{"text":"Wind Speed (kts) and Direction 18 Oct 2017","dx":5,"offset":15},
"encoding":{
"x":{"field":"t","type":"quantitative","scale":{"domain":[705,972],"nice":false},"axis":{"values":[707,737,767,797,827,857,887,917,947],"labelExpr":"floor(datum.value/60)+':'+(datum.value%60<10?'0':'')+datum.value%60","labelFontSize":38,"title":"Time UTC","titleX":795,"titlePadding":43}},
"y":{"field":"h","type":"quantitative","scale":{"domain":[-35.5,756],"nice":false},"axis":{"values":[0,100,200,300,400,500,600,700],"title":"Altitude AGL (m)"}}},
"layer":[
{"data":{"name":"wcasts"},"mark":{"type":"rule","color":"#ff0000","strokeWidth":2.6,"strokeDash":[9,5]},"encoding":{"y":{"field":"p","type":"quantitative","scale":{"domain":[-35.5,756],"nice":false}},"y2":{"field":"q"}}},
{"data":{"name":"wind"},"mark":{"type":"point","filled":false,"color":"black","strokeWidth":2.2,"opacity":1,"size":4,"clip":true},"encoding":{
"shape":{"field":"s","type":"nominal","legend":null,"scale":{"domain":[5,10,15,20,25,30,35],"range":["M0,0L0,44M0,36L-10,38.5","M0,0L0,44L-19.5,49","M0,0L0,44L-19.5,49M0,36L-10,38.5","M0,0L0,44L-19.5,49M0,36L-19.5,41","M0,0L0,44L-19.5,49M0,36L-19.5,41M0,28L-10,30.5","M0,0L0,44L-19.5,49M0,36L-19.5,41M0,28L-19.5,33","M0,0L0,44L-19.5,49M0,36L-19.5,41M0,28L-19.5,33M0,20L-10,22.5"]}},
"angle":{"field":"d","type":"quantitative","legend":null,"scale":{"domain":[180,270],"range":[0,90]}}}}]}]}
],
"config":{"view":{"stroke":null},"font":"Lato","title":{"font":"Lato","fontSize":54,"fontWeight":"normal","color":"black"},"axis":{"grid":false,"domain":false,"tickSize":8,"tickColor":"#333","tickWidth":2,"labelFont":"Lato","labelFontSize":29,"labelColor":"black","labelPadding":6,"titleFont":"Open Sans","titleFontSize":52,"titleFontWeight":"normal","titleColor":"black","titlePadding":6},"axisX":{"titleFont":"Lato","titleFontSize":52,"labelPadding":8}}}
